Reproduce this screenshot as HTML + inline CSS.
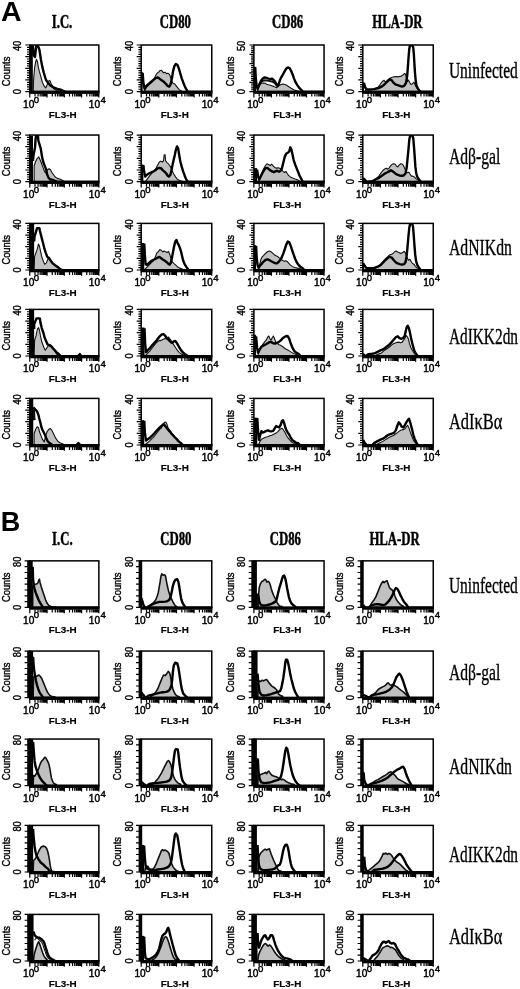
<!DOCTYPE html>
<html><head><meta charset="utf-8"><style>
html,body{margin:0;padding:0;background:#fff;}
svg{display:block;filter:grayscale(1);}
text{font-family:"Liberation Sans",sans-serif;fill:#000;}
.big{font-size:28.5px;font-weight:bold;}
.hd{font-family:"Liberation Serif",serif;font-size:19.2px;font-weight:bold;stroke:#000;stroke-width:0.5px;}
.rl{font-family:"Liberation Serif",serif;font-size:23px;stroke:#000;stroke-width:0.35px;}
.ax{font-size:10.1px;stroke:#000;stroke-width:0.45px;}
.sup{font-size:9.6px;}
.yl{font-size:10.5px;stroke:#000;stroke-width:0.4px;}
.fl{font-size:9.9px;font-weight:bold;stroke:#000;stroke-width:0.15px;}
</style></head><body>
<svg width="520" height="989" viewBox="0 0 520 989">
<text class="big" x="1.0" y="20.8">A</text>
<text class="big" x="0.8" y="530.6" style="font-size:27px">B</text>
<text class="hd" transform="translate(62,28) scale(0.665,1)" text-anchor="middle">I.C.</text>
<text class="hd" transform="translate(175.4,28) scale(0.665,1)" text-anchor="middle">CD80</text>
<text class="hd" transform="translate(287.6,28) scale(0.665,1)" text-anchor="middle">CD86</text>
<text class="hd" transform="translate(397.4,28) scale(0.665,1)" text-anchor="middle">HLA-DR</text>
<text class="rl" transform="translate(448.9,78.2) scale(0.675,1)">Uninfected</text>
<clipPath id="c29_45"><rect x="29.8" y="45" width="69.05" height="46.6"/></clipPath>
<g clip-path="url(#c29_45)">
<polygon points="33.26,91.6 33.55,80.05 34.58,68.05 35.6,62.05 36.48,59.27 37.5,62.05 38.52,67.9 39.4,71.71 40.86,76.54 42.32,82.24 44.22,86.2 45.68,87.95 47.15,85.02 48.17,81.37 49.63,80.34 50.95,83.27 52.41,86.05 53.87,88.83 56.94,90.44 62.05,91.6 62.05,91.6 33.26,91.6" fill="#c0c0c0" stroke="#111" stroke-width="1.1" stroke-linejoin="round"/>
<polyline points="32.82,45.51 33.55,55.02 35.02,56.93 36.18,45.95 37.79,45.51 39.4,49.61 40.86,59.27 42.32,66.88 43.78,72.73 45.25,77.56 46.27,80.34 47.58,82.24 50.07,85.17 52.85,87.07 56.65,88.54 61.47,90 65.42,91.9 71.85,91.9 99.18,91.9" fill="none" stroke="#000" stroke-width="2.4" stroke-linejoin="round"/>
<rect x="29.8" y="45.22" width="3.02" height="46.38" fill="#000"/>
</g>
<rect x="29.8" y="45" width="69.05" height="46.6" fill="none" stroke="#000" stroke-width="1.5"/>
<path d="M25.3 45H29.8M27 47.33H29.8M27 49.66H29.8M27 51.99H29.8M27 54.32H29.8M25.3 56.65H29.8M27 58.98H29.8M27 61.31H29.8M27 63.64H29.8M27 65.97H29.8M25.3 68.3H29.8M27 70.63H29.8M27 72.96H29.8M27 75.29H29.8M27 77.62H29.8M25.3 79.95H29.8M27 82.28H29.8M27 84.61H29.8M27 86.94H29.8M27 89.27H29.8M25.3 91.6H29.8M29.8 93.6V97.4M35 93.6V96.6M38.04 93.6V96.6M40.19 93.6V96.6M41.87 93.6V96.6M43.23 93.6V96.6M44.39 93.6V96.6M45.39 93.6V96.6M46.27 93.6V96.6M47.06 93.6V97.4M52.26 93.6V96.6M55.3 93.6V96.6M57.46 93.6V96.6M59.13 93.6V96.6M60.5 93.6V96.6M61.65 93.6V96.6M62.65 93.6V96.6M63.54 93.6V96.6M64.33 93.6V97.4M69.52 93.6V96.6M72.56 93.6V96.6M74.72 93.6V96.6M76.39 93.6V96.6M77.76 93.6V96.6M78.91 93.6V96.6M79.91 93.6V96.6M80.8 93.6V96.6M81.59 93.6V97.4M86.78 93.6V96.6M89.82 93.6V96.6M91.98 93.6V96.6M93.65 93.6V96.6M95.02 93.6V96.6M96.18 93.6V96.6M97.18 93.6V96.6M98.06 93.6V96.6M98.85 93.6V97.4" stroke="#000" stroke-width="1.2" fill="none"/>
<rect x="29.05" y="90.7" width="70.55" height="3.2" fill="#000"/>
<text class="yl" transform="translate(21.3,46) rotate(-90) scale(0.88,1)" text-anchor="middle">40</text>
<text class="yl" transform="translate(21.3,91.6) rotate(-90) scale(0.88,1)" text-anchor="middle">0</text>
<text class="yl" transform="translate(9.9,71.4) rotate(-90) scale(0.85,1)" text-anchor="middle" style="font-size:11px">Counts</text>
<text class="ax" x="23.1" y="107.8">10<tspan class="sup" dx="-0.5" dy="-5.2">0</tspan></text>
<text class="ax" x="88.85" y="107.8">10<tspan class="sup" dx="0.3" dy="-5.2">4</tspan></text>
<text class="fl" x="62.62" y="117.6" text-anchor="middle">FL3-H</text>
<clipPath id="c141_45"><rect x="141.2" y="45" width="70.55" height="46.6"/></clipPath>
<g clip-path="url(#c141_45)">
<polygon points="144.12,91.46 146.31,87.66 149.23,84.73 152.15,81.8 154.35,78.15 155.81,75.22 157.27,73.02 158.73,72.15 159.75,70.68 161.22,70.24 162.38,71.41 163.55,72.88 165.02,72.15 166.48,73.61 167.94,73.17 169.4,74.34 170.42,76.68 171.45,80.34 172.91,83.27 174.37,83.71 175.83,85.46 177.58,87.66 179.48,89.85 181.68,91.32 182.85,91.6 182.85,91.6 144.12,91.6" fill="#c0c0c0" stroke="#111" stroke-width="1.1" stroke-linejoin="round"/>
<polyline points="142.65,72.73 143.38,82.98 144.55,88.83 146.02,86.2 148.06,84.44 150.69,82.24 153.62,79.76 155.81,78.15 157.71,77.41 159.46,78.59 161.65,80.34 163.85,81.8 166.04,84 167.79,86.2 169.25,86.63 170.57,84.44 171.88,78.59 173.05,71.27 174.37,66.15 175.83,63.95 177.44,64.98 178.9,68.63 180.36,73.76 181.82,78.59 183.28,82.54 184.75,86.2 186.21,89.12 188.11,91.9 190.45,91.9 211.35,91.9" fill="none" stroke="#000" stroke-width="2.4" stroke-linejoin="round"/>
<rect x="141.2" y="72" width="1.45" height="19.6" fill="#000"/>
</g>
<rect x="141.2" y="45" width="70.55" height="46.6" fill="none" stroke="#000" stroke-width="1.5"/>
<path d="M136.7 45H141.2M138.4 47.33H141.2M138.4 49.66H141.2M138.4 51.99H141.2M138.4 54.32H141.2M136.7 56.65H141.2M138.4 58.98H141.2M138.4 61.31H141.2M138.4 63.64H141.2M138.4 65.97H141.2M136.7 68.3H141.2M138.4 70.63H141.2M138.4 72.96H141.2M138.4 75.29H141.2M138.4 77.62H141.2M136.7 79.95H141.2M138.4 82.28H141.2M138.4 84.61H141.2M138.4 86.94H141.2M138.4 89.27H141.2M136.7 91.6H141.2M141.2 93.6V97.4M146.51 93.6V96.6M149.62 93.6V96.6M151.82 93.6V96.6M153.53 93.6V96.6M154.92 93.6V96.6M156.11 93.6V96.6M157.13 93.6V96.6M158.03 93.6V96.6M158.84 93.6V97.4M164.15 93.6V96.6M167.25 93.6V96.6M169.46 93.6V96.6M171.17 93.6V96.6M172.56 93.6V96.6M173.74 93.6V96.6M174.77 93.6V96.6M175.67 93.6V96.6M176.47 93.6V97.4M181.78 93.6V96.6M184.89 93.6V96.6M187.09 93.6V96.6M188.8 93.6V96.6M190.2 93.6V96.6M191.38 93.6V96.6M192.4 93.6V96.6M193.31 93.6V96.6M194.11 93.6V97.4M199.42 93.6V96.6M202.53 93.6V96.6M204.73 93.6V96.6M206.44 93.6V96.6M207.84 93.6V96.6M209.02 93.6V96.6M210.04 93.6V96.6M210.94 93.6V96.6M211.75 93.6V97.4" stroke="#000" stroke-width="1.2" fill="none"/>
<rect x="140.45" y="90.7" width="72.05" height="3.2" fill="#000"/>
<text class="yl" transform="translate(132.7,46) rotate(-90) scale(0.88,1)" text-anchor="middle">40</text>
<text class="yl" transform="translate(132.7,91.6) rotate(-90) scale(0.88,1)" text-anchor="middle">0</text>
<text class="yl" transform="translate(121.3,71.4) rotate(-90) scale(0.85,1)" text-anchor="middle" style="font-size:11px">Counts</text>
<text class="ax" x="134.5" y="107.8">10<tspan class="sup" dx="-0.5" dy="-5.2">0</tspan></text>
<text class="ax" x="201.75" y="107.8">10<tspan class="sup" dx="0.3" dy="-5.2">4</tspan></text>
<text class="fl" x="174.78" y="117.6" text-anchor="middle">FL3-H</text>
<clipPath id="c253_45"><rect x="253.9" y="45" width="70.15" height="46.6"/></clipPath>
<g clip-path="url(#c253_45)">
<polygon points="257.55,91.46 258.58,87.37 260.04,84.44 261.5,83.27 263.4,82.98 265.15,83.27 266.62,84.15 268.37,84.73 270.27,85.17 272.46,85.9 274.22,86.63 275.68,87.37 276.85,87.66 278.02,86.63 279.77,85.17 281.23,84.44 282.98,84 284.88,84.44 286.78,85.32 288.83,86.78 291.17,88.24 293.65,89.71 296.58,90.73 300.23,91.46 300.23,91.6 257.55,91.6" fill="#c0c0c0" stroke="#111" stroke-width="1.1" stroke-linejoin="round"/>
<polyline points="258.58,85.9 260.04,83.27 261.5,81.51 263.4,80.63 265.15,80.34 267.35,80.63 269.25,80.93 271,81.22 272.75,81.8 274.65,82.98 276.12,84.73 277.14,86.2" fill="none" stroke="#111" stroke-width="2.0" stroke-linejoin="round"/>
<polyline points="255.22,67.17 255.8,78.59 256.68,85.9 257.55,88.83 258.58,86.63 259.6,83.71 261.06,80.78 262.96,78.29 264.86,77.41 266.62,77.85 268.37,78.59 270.27,78.88 272.17,78.59 273.92,80.34 275.38,82.24 276.55,84.44 277.58,85.9 278.6,84.44 279.77,80.78 280.94,77.85 282.4,75.37 283.86,72.73 285.32,70.1 286.78,68.05 288.25,67.46 289.71,68.34 291.17,70.98 292.63,74.49 294.09,78.59 295.55,82.24 297.31,85.17 299.06,87.66 300.96,89.56 303.15,91.9 305.35,91.9 324.35,91.9" fill="none" stroke="#000" stroke-width="2.4" stroke-linejoin="round"/>
<rect x="253.9" y="66.88" width="2.05" height="24.72" fill="#000"/>
</g>
<rect x="253.9" y="45" width="70.15" height="46.6" fill="none" stroke="#000" stroke-width="1.5"/>
<path d="M249.4 45H253.9M251.1 46.86H253.9M251.1 48.73H253.9M251.1 50.59H253.9M251.1 52.46H253.9M249.4 54.32H253.9M251.1 56.18H253.9M251.1 58.05H253.9M251.1 59.91H253.9M251.1 61.78H253.9M249.4 63.64H253.9M251.1 65.5H253.9M251.1 67.37H253.9M251.1 69.23H253.9M251.1 71.1H253.9M249.4 72.96H253.9M251.1 74.82H253.9M251.1 76.69H253.9M251.1 78.55H253.9M251.1 80.42H253.9M249.4 82.28H253.9M251.1 84.14H253.9M251.1 86.01H253.9M251.1 87.87H253.9M251.1 89.74H253.9M249.4 91.6H253.9M253.9 93.6V97.4M259.18 93.6V96.6M262.27 93.6V96.6M264.46 93.6V96.6M266.16 93.6V96.6M267.55 93.6V96.6M268.72 93.6V96.6M269.74 93.6V96.6M270.64 93.6V96.6M271.44 93.6V97.4M276.72 93.6V96.6M279.81 93.6V96.6M282 93.6V96.6M283.7 93.6V96.6M285.08 93.6V96.6M286.26 93.6V96.6M287.28 93.6V96.6M288.17 93.6V96.6M288.98 93.6V97.4M294.25 93.6V96.6M297.34 93.6V96.6M299.53 93.6V96.6M301.23 93.6V96.6M302.62 93.6V96.6M303.8 93.6V96.6M304.81 93.6V96.6M305.71 93.6V96.6M306.51 93.6V97.4M311.79 93.6V96.6M314.88 93.6V96.6M317.07 93.6V96.6M318.77 93.6V96.6M320.16 93.6V96.6M321.33 93.6V96.6M322.35 93.6V96.6M323.25 93.6V96.6M324.05 93.6V97.4" stroke="#000" stroke-width="1.2" fill="none"/>
<rect x="253.15" y="90.7" width="71.65" height="3.2" fill="#000"/>
<text class="yl" transform="translate(245.4,46) rotate(-90) scale(0.88,1)" text-anchor="middle">50</text>
<text class="yl" transform="translate(245.4,91.6) rotate(-90) scale(0.88,1)" text-anchor="middle">0</text>
<text class="yl" transform="translate(234,71.4) rotate(-90) scale(0.85,1)" text-anchor="middle" style="font-size:11px">Counts</text>
<text class="ax" x="247.2" y="107.8">10<tspan class="sup" dx="-0.5" dy="-5.2">0</tspan></text>
<text class="ax" x="314.05" y="107.8">10<tspan class="sup" dx="0.3" dy="-5.2">4</tspan></text>
<text class="fl" x="287.28" y="117.6" text-anchor="middle">FL3-H</text>
<clipPath id="c362_45"><rect x="362.8" y="45" width="70.45" height="46.6"/></clipPath>
<g clip-path="url(#c362_45)">
<polygon points="365.38,90.29 369.77,90 374.15,88.83 377.81,87.37 379.71,85.17 381.17,82.98 382.63,81.22 384.09,80.34 385.55,82.24 387.31,80.34 389.5,78.59 391.69,77.41 393.88,76.83 396.08,76.54 398.27,76.83 400.46,76.39 402.65,75.37 404.55,73.46 405.58,74.49 406.6,78.59 407.48,81.51 408.5,80.05 409.52,82.24 410.98,84.44 412.45,83.71 413.91,82.24 415.37,85.17 416.83,88.1 418.73,90.29 420.92,91.02 420.92,91.6 365.38,91.6" fill="#c0c0c0" stroke="#111" stroke-width="1.1" stroke-linejoin="round"/>
<polyline points="363.92,82.68 365.09,87.37 366.55,89.12 369.77,89.56 374.15,89.12 378.54,88.1 381.46,86.63 383.65,85.17 385.85,82.98 388.04,80.78 389.94,79.32 391.69,80.34 393.45,82.68 395.35,84.44 397.54,85.17 399.73,85.9 401.92,86.63 404.12,85.9 406.02,82.98 407.04,77.12 407.77,68.34 408.5,58.1 409.23,49.32 409.96,45.22 412.15,44.63 413.32,47.85 413.91,55.17 414.49,65.41 415.08,74.2 415.81,81.51 416.54,85.9 418,88.54 420.19,91.9 422.38,91.9 433.35,91.9" fill="none" stroke="#000" stroke-width="2.4" stroke-linejoin="round"/>
<rect x="362.8" y="82.24" width="1.12" height="9.36" fill="#000"/>
</g>
<rect x="362.8" y="45" width="70.45" height="46.6" fill="none" stroke="#000" stroke-width="1.5"/>
<path d="M358.3 45H362.8M360 47.33H362.8M360 49.66H362.8M360 51.99H362.8M360 54.32H362.8M358.3 56.65H362.8M360 58.98H362.8M360 61.31H362.8M360 63.64H362.8M360 65.97H362.8M358.3 68.3H362.8M360 70.63H362.8M360 72.96H362.8M360 75.29H362.8M360 77.62H362.8M358.3 79.95H362.8M360 82.28H362.8M360 84.61H362.8M360 86.94H362.8M360 89.27H362.8M358.3 91.6H362.8M362.8 93.6V97.4M368.1 93.6V96.6M371.2 93.6V96.6M373.4 93.6V96.6M375.11 93.6V96.6M376.51 93.6V96.6M377.68 93.6V96.6M378.71 93.6V96.6M379.61 93.6V96.6M380.41 93.6V97.4M385.71 93.6V96.6M388.82 93.6V96.6M391.02 93.6V96.6M392.72 93.6V96.6M394.12 93.6V96.6M395.3 93.6V96.6M396.32 93.6V96.6M397.22 93.6V96.6M398.03 93.6V97.4M403.33 93.6V96.6M406.43 93.6V96.6M408.63 93.6V96.6M410.34 93.6V96.6M411.73 93.6V96.6M412.91 93.6V96.6M413.93 93.6V96.6M414.83 93.6V96.6M415.64 93.6V97.4M420.94 93.6V96.6M424.04 93.6V96.6M426.24 93.6V96.6M427.95 93.6V96.6M429.34 93.6V96.6M430.52 93.6V96.6M431.54 93.6V96.6M432.44 93.6V96.6M433.25 93.6V97.4" stroke="#000" stroke-width="1.2" fill="none"/>
<rect x="362.05" y="90.7" width="71.95" height="3.2" fill="#000"/>
<text class="yl" transform="translate(354.3,46) rotate(-90) scale(0.88,1)" text-anchor="middle">40</text>
<text class="yl" transform="translate(354.3,91.6) rotate(-90) scale(0.88,1)" text-anchor="middle">0</text>
<text class="yl" transform="translate(342.9,71.4) rotate(-90) scale(0.85,1)" text-anchor="middle" style="font-size:11px">Counts</text>
<text class="ax" x="356.1" y="107.8">10<tspan class="sup" dx="-0.5" dy="-5.2">0</tspan></text>
<text class="ax" x="423.25" y="107.8">10<tspan class="sup" dx="0.3" dy="-5.2">4</tspan></text>
<text class="fl" x="396.33" y="117.6" text-anchor="middle">FL3-H</text>
<text class="rl" transform="translate(448.9,164.3) scale(0.68,1)">Adβ-gal</text>
<clipPath id="c29_135"><rect x="29.8" y="135.05" width="69.05" height="46.6"/></clipPath>
<g clip-path="url(#c29_135)">
<polygon points="34.14,181.59 34.14,166.07 35.31,162.27 36.77,159.2 38.82,156.85 39.84,159.2 41.15,162.27 42.18,165.34 43.35,168.41 44.52,171.49 45.68,172.95 46.85,170.76 48.02,169.15 49.48,168.85 50.65,169.88 51.82,172.22 53.43,174.56 54.89,176.76 57.23,178.37 60.3,179.24 63.81,181 63.81,181.65 34.14,181.65" fill="#c0c0c0" stroke="#111" stroke-width="1.1" stroke-linejoin="round"/>
<polyline points="32.97,160.8 33.55,154.95 35.02,147.63 35.6,138.85 36.04,135.93 37.94,135.93 38.38,140.76 39.55,144.56 40.72,148.37 41.45,153.05 42.18,157.59 43.35,162.27 44.52,165.34 45.68,168.41 46.56,171.49 47.15,174.56 48.46,177.63 49.92,179.24 52.55,179.83 57.23,181.95 62.64,181.95 71.85,181.95 74.77,181.95 76.96,181.95 86.46,181.95 88.65,181.95 90.12,181.95 99.18,181.95" fill="none" stroke="#000" stroke-width="2.4" stroke-linejoin="round"/>
<rect x="29.8" y="135.93" width="3.17" height="45.72" fill="#000"/>
</g>
<rect x="29.8" y="135.05" width="69.05" height="46.6" fill="none" stroke="#000" stroke-width="1.5"/>
<path d="M25.3 135.05H29.8M27 137.38H29.8M27 139.71H29.8M27 142.04H29.8M27 144.37H29.8M25.3 146.7H29.8M27 149.03H29.8M27 151.36H29.8M27 153.69H29.8M27 156.02H29.8M25.3 158.35H29.8M27 160.68H29.8M27 163.01H29.8M27 165.34H29.8M27 167.67H29.8M25.3 170H29.8M27 172.33H29.8M27 174.66H29.8M27 176.99H29.8M27 179.32H29.8M25.3 181.65H29.8M29.8 183.65V187.45M35 183.65V186.65M38.04 183.65V186.65M40.19 183.65V186.65M41.87 183.65V186.65M43.23 183.65V186.65M44.39 183.65V186.65M45.39 183.65V186.65M46.27 183.65V186.65M47.06 183.65V187.45M52.26 183.65V186.65M55.3 183.65V186.65M57.46 183.65V186.65M59.13 183.65V186.65M60.5 183.65V186.65M61.65 183.65V186.65M62.65 183.65V186.65M63.54 183.65V186.65M64.33 183.65V187.45M69.52 183.65V186.65M72.56 183.65V186.65M74.72 183.65V186.65M76.39 183.65V186.65M77.76 183.65V186.65M78.91 183.65V186.65M79.91 183.65V186.65M80.8 183.65V186.65M81.59 183.65V187.45M86.78 183.65V186.65M89.82 183.65V186.65M91.98 183.65V186.65M93.65 183.65V186.65M95.02 183.65V186.65M96.18 183.65V186.65M97.18 183.65V186.65M98.06 183.65V186.65M98.85 183.65V187.45" stroke="#000" stroke-width="1.2" fill="none"/>
<rect x="29.05" y="180.75" width="70.55" height="3.2" fill="#000"/>
<text class="yl" transform="translate(21.3,136.05) rotate(-90) scale(0.88,1)" text-anchor="middle">40</text>
<text class="yl" transform="translate(21.3,181.65) rotate(-90) scale(0.88,1)" text-anchor="middle">0</text>
<text class="yl" transform="translate(9.9,161.45) rotate(-90) scale(0.85,1)" text-anchor="middle" style="font-size:11px">Counts</text>
<text class="ax" x="23.1" y="197.85">10<tspan class="sup" dx="-0.5" dy="-5.2">0</tspan></text>
<text class="ax" x="88.85" y="197.85">10<tspan class="sup" dx="0.3" dy="-5.2">4</tspan></text>
<text class="fl" x="62.62" y="207.65" text-anchor="middle">FL3-H</text>
<clipPath id="c141_135"><rect x="141.2" y="135.05" width="70.55" height="46.6"/></clipPath>
<g clip-path="url(#c141_135)">
<polygon points="145.58,181.29 147.77,178.37 149.96,175.44 152.15,172.8 154.35,170.76 156.25,167.83 157.71,164.9 159.17,162.27 160.63,161.1 162.09,161.98 163.55,160.8 164.14,154.95 165.02,154.66 165.6,160.8 166.77,162.27 168.23,163.73 169.69,165.49 171.15,168.12 172.32,171.34 173.78,173.98 175.54,176.9 177.29,179.1 179.63,180.56 182.85,181.59 182.85,181.65 145.58,181.65" fill="#c0c0c0" stroke="#111" stroke-width="1.1" stroke-linejoin="round"/>
<polyline points="143.38,165.2 144.12,171.34 145.14,176.61 147.04,174.71 149.23,173.24 151.42,172.22 153.62,171.34 155.81,169.88 157.71,168.41 159.46,167.83 160.92,168.12 162.38,169.88 164.14,171.34 166.04,173.24 167.5,175.44 168.96,176.61 170.42,174.71 171.45,170.32 172.62,164.46 173.78,159.34 174.81,154.95 175.83,149.83 177,146.46 178.17,148.37 179.19,154.95 180.36,161.54 181.68,166.66 183.14,171.34 184.6,175.44 186.06,179.1 187.96,181.95 190.15,181.95 211.35,181.95" fill="none" stroke="#000" stroke-width="2.4" stroke-linejoin="round"/>
<rect x="141.2" y="164.46" width="2.18" height="17.19" fill="#000"/>
</g>
<rect x="141.2" y="135.05" width="70.55" height="46.6" fill="none" stroke="#000" stroke-width="1.5"/>
<path d="M136.7 135.05H141.2M138.4 137.38H141.2M138.4 139.71H141.2M138.4 142.04H141.2M138.4 144.37H141.2M136.7 146.7H141.2M138.4 149.03H141.2M138.4 151.36H141.2M138.4 153.69H141.2M138.4 156.02H141.2M136.7 158.35H141.2M138.4 160.68H141.2M138.4 163.01H141.2M138.4 165.34H141.2M138.4 167.67H141.2M136.7 170H141.2M138.4 172.33H141.2M138.4 174.66H141.2M138.4 176.99H141.2M138.4 179.32H141.2M136.7 181.65H141.2M141.2 183.65V187.45M146.51 183.65V186.65M149.62 183.65V186.65M151.82 183.65V186.65M153.53 183.65V186.65M154.92 183.65V186.65M156.11 183.65V186.65M157.13 183.65V186.65M158.03 183.65V186.65M158.84 183.65V187.45M164.15 183.65V186.65M167.25 183.65V186.65M169.46 183.65V186.65M171.17 183.65V186.65M172.56 183.65V186.65M173.74 183.65V186.65M174.77 183.65V186.65M175.67 183.65V186.65M176.47 183.65V187.45M181.78 183.65V186.65M184.89 183.65V186.65M187.09 183.65V186.65M188.8 183.65V186.65M190.2 183.65V186.65M191.38 183.65V186.65M192.4 183.65V186.65M193.31 183.65V186.65M194.11 183.65V187.45M199.42 183.65V186.65M202.53 183.65V186.65M204.73 183.65V186.65M206.44 183.65V186.65M207.84 183.65V186.65M209.02 183.65V186.65M210.04 183.65V186.65M210.94 183.65V186.65M211.75 183.65V187.45" stroke="#000" stroke-width="1.2" fill="none"/>
<rect x="140.45" y="180.75" width="72.05" height="3.2" fill="#000"/>
<text class="yl" transform="translate(132.7,136.05) rotate(-90) scale(0.88,1)" text-anchor="middle">40</text>
<text class="yl" transform="translate(132.7,181.65) rotate(-90) scale(0.88,1)" text-anchor="middle">0</text>
<text class="yl" transform="translate(121.3,161.45) rotate(-90) scale(0.85,1)" text-anchor="middle" style="font-size:11px">Counts</text>
<text class="ax" x="134.5" y="197.85">10<tspan class="sup" dx="-0.5" dy="-5.2">0</tspan></text>
<text class="ax" x="201.75" y="197.85">10<tspan class="sup" dx="0.3" dy="-5.2">4</tspan></text>
<text class="fl" x="174.78" y="207.65" text-anchor="middle">FL3-H</text>
<clipPath id="c253_135"><rect x="253.9" y="135.05" width="70.15" height="46.6"/></clipPath>
<g clip-path="url(#c253_135)">
<polygon points="258.58,181.29 260.04,176.9 261.94,172.51 263.69,168.85 265.45,165.49 266.91,163.73 268.37,164.46 270.27,165.49 271.73,164.02 273.19,165.93 274.65,167.39 276.55,168.12 278.31,167.83 280.06,168.41 281.52,169.59 282.98,171.34 284.45,172.51 285.91,171.34 287.08,173.24 288.54,175.44 290.29,176.9 292.63,178.07 295.12,179.1 297.31,179.83 299.5,181 299.5,181.65 258.58,181.65" fill="#c0c0c0" stroke="#111" stroke-width="1.1" stroke-linejoin="round"/>
<polyline points="257.12,169.59 258.14,176.9 259.31,179.54 260.48,176.9 261.94,173.98 263.69,170.76 265.45,168.12 266.91,167.83 268.37,168.85 270.27,170.32 272.17,171.34 273.92,172.22 275.38,171.34 277.14,170.76 279.04,171.78 280.5,171.05 281.96,168.12 283.42,162.27 284.88,156.41 286.35,153.49 287.81,152.76 289.27,151.29 290.29,147.34 291.46,149.83 292.63,154.95 293.65,160.07 295.12,164.46 296.58,168.12 298.04,171.78 299.5,175.44 300.96,178.37 302.86,181.95 305.35,181.95 308.27,181.95 324.35,181.95" fill="none" stroke="#000" stroke-width="2.4" stroke-linejoin="round"/>
<rect x="253.9" y="168.12" width="3.22" height="13.53" fill="#000"/>
</g>
<rect x="253.9" y="135.05" width="70.15" height="46.6" fill="none" stroke="#000" stroke-width="1.5"/>
<path d="M249.4 135.05H253.9M251.1 137.38H253.9M251.1 139.71H253.9M251.1 142.04H253.9M251.1 144.37H253.9M249.4 146.7H253.9M251.1 149.03H253.9M251.1 151.36H253.9M251.1 153.69H253.9M251.1 156.02H253.9M249.4 158.35H253.9M251.1 160.68H253.9M251.1 163.01H253.9M251.1 165.34H253.9M251.1 167.67H253.9M249.4 170H253.9M251.1 172.33H253.9M251.1 174.66H253.9M251.1 176.99H253.9M251.1 179.32H253.9M249.4 181.65H253.9M253.9 183.65V187.45M259.18 183.65V186.65M262.27 183.65V186.65M264.46 183.65V186.65M266.16 183.65V186.65M267.55 183.65V186.65M268.72 183.65V186.65M269.74 183.65V186.65M270.64 183.65V186.65M271.44 183.65V187.45M276.72 183.65V186.65M279.81 183.65V186.65M282 183.65V186.65M283.7 183.65V186.65M285.08 183.65V186.65M286.26 183.65V186.65M287.28 183.65V186.65M288.17 183.65V186.65M288.98 183.65V187.45M294.25 183.65V186.65M297.34 183.65V186.65M299.53 183.65V186.65M301.23 183.65V186.65M302.62 183.65V186.65M303.8 183.65V186.65M304.81 183.65V186.65M305.71 183.65V186.65M306.51 183.65V187.45M311.79 183.65V186.65M314.88 183.65V186.65M317.07 183.65V186.65M318.77 183.65V186.65M320.16 183.65V186.65M321.33 183.65V186.65M322.35 183.65V186.65M323.25 183.65V186.65M324.05 183.65V187.45" stroke="#000" stroke-width="1.2" fill="none"/>
<rect x="253.15" y="180.75" width="71.65" height="3.2" fill="#000"/>
<text class="yl" transform="translate(245.4,136.05) rotate(-90) scale(0.88,1)" text-anchor="middle">40</text>
<text class="yl" transform="translate(245.4,181.65) rotate(-90) scale(0.88,1)" text-anchor="middle">0</text>
<text class="yl" transform="translate(234,161.45) rotate(-90) scale(0.85,1)" text-anchor="middle" style="font-size:11px">Counts</text>
<text class="ax" x="247.2" y="197.85">10<tspan class="sup" dx="-0.5" dy="-5.2">0</tspan></text>
<text class="ax" x="314.05" y="197.85">10<tspan class="sup" dx="0.3" dy="-5.2">4</tspan></text>
<text class="fl" x="287.28" y="207.65" text-anchor="middle">FL3-H</text>
<clipPath id="c362_135"><rect x="362.8" y="135.05" width="70.45" height="46.6"/></clipPath>
<g clip-path="url(#c362_135)">
<polygon points="366.85,181.29 372.69,180.56 376.35,178.37 378.83,176.17 380.73,173.24 382.63,170.76 384.38,169.29 386.14,168.12 387.6,169.29 389.06,168.12 390.52,165.93 391.98,164.46 393.45,163.73 394.91,164.02 396.37,165.93 397.83,166.95 399.29,164.9 400.75,163.73 402.22,164.02 403.68,165.93 404.85,168.85 406.02,171.34 407.48,172.8 408.94,172.22 409.96,173.98 411.42,176.17 412.88,176.17 414.35,176.9 415.81,178.66 418,180.12 420.19,181.29 420.19,181.65 366.85,181.65" fill="#c0c0c0" stroke="#111" stroke-width="1.1" stroke-linejoin="round"/>
<polyline points="363.19,178.37 364.65,179.54 366.85,181.95 371.23,181.95 375.62,179.54 379.27,177.63 382.19,175.44 384.68,173.68 387.02,172.51 389.06,171.34 390.96,170.32 392.86,171.34 394.91,173.24 397.25,174.71 399.29,175.44 401.63,175.73 403.68,175.44 405.58,173.24 406.6,168.12 407.48,159.34 408.5,149.1 409.23,140.32 410.11,135.63 412.45,135.2 413.32,138.85 414.05,147.63 414.78,157.88 415.37,166.66 416.25,173.24 417.27,176.9 418.73,179.1 420.92,181.95 423.85,181.95 433.35,181.95" fill="none" stroke="#000" stroke-width="2.4" stroke-linejoin="round"/>
<rect x="362.8" y="177.63" width="1.42" height="4.02" fill="#000"/>
</g>
<rect x="362.8" y="135.05" width="70.45" height="46.6" fill="none" stroke="#000" stroke-width="1.5"/>
<path d="M358.3 135.05H362.8M360 137.38H362.8M360 139.71H362.8M360 142.04H362.8M360 144.37H362.8M358.3 146.7H362.8M360 149.03H362.8M360 151.36H362.8M360 153.69H362.8M360 156.02H362.8M358.3 158.35H362.8M360 160.68H362.8M360 163.01H362.8M360 165.34H362.8M360 167.67H362.8M358.3 170H362.8M360 172.33H362.8M360 174.66H362.8M360 176.99H362.8M360 179.32H362.8M358.3 181.65H362.8M362.8 183.65V187.45M368.1 183.65V186.65M371.2 183.65V186.65M373.4 183.65V186.65M375.11 183.65V186.65M376.51 183.65V186.65M377.68 183.65V186.65M378.71 183.65V186.65M379.61 183.65V186.65M380.41 183.65V187.45M385.71 183.65V186.65M388.82 183.65V186.65M391.02 183.65V186.65M392.72 183.65V186.65M394.12 183.65V186.65M395.3 183.65V186.65M396.32 183.65V186.65M397.22 183.65V186.65M398.03 183.65V187.45M403.33 183.65V186.65M406.43 183.65V186.65M408.63 183.65V186.65M410.34 183.65V186.65M411.73 183.65V186.65M412.91 183.65V186.65M413.93 183.65V186.65M414.83 183.65V186.65M415.64 183.65V187.45M420.94 183.65V186.65M424.04 183.65V186.65M426.24 183.65V186.65M427.95 183.65V186.65M429.34 183.65V186.65M430.52 183.65V186.65M431.54 183.65V186.65M432.44 183.65V186.65M433.25 183.65V187.45" stroke="#000" stroke-width="1.2" fill="none"/>
<rect x="362.05" y="180.75" width="71.95" height="3.2" fill="#000"/>
<text class="yl" transform="translate(354.3,136.05) rotate(-90) scale(0.88,1)" text-anchor="middle">40</text>
<text class="yl" transform="translate(354.3,181.65) rotate(-90) scale(0.88,1)" text-anchor="middle">0</text>
<text class="yl" transform="translate(342.9,161.45) rotate(-90) scale(0.85,1)" text-anchor="middle" style="font-size:11px">Counts</text>
<text class="ax" x="356.1" y="197.85">10<tspan class="sup" dx="-0.5" dy="-5.2">0</tspan></text>
<text class="ax" x="423.25" y="197.85">10<tspan class="sup" dx="0.3" dy="-5.2">4</tspan></text>
<text class="fl" x="396.33" y="207.65" text-anchor="middle">FL3-H</text>
<text class="rl" transform="translate(448.9,254.5) scale(0.685,1)">AdNIKdn</text>
<clipPath id="c29_223"><rect x="29.8" y="223.4" width="69.05" height="46.6"/></clipPath>
<g clip-path="url(#c29_223)">
<polygon points="34.14,270 34.58,256.56 35.6,253.63 37.06,249.68 38.52,243.98 39.4,245.88 40.42,250.71 41.74,256.56 43.35,261.24 44.66,264.17 46.27,263.15 48.17,258.46 49.48,257.44 50.95,260.37 52.85,263.15 55.77,266.07 58.69,267.98 61.47,269 64.54,270 64.54,270 34.14,270" fill="#c0c0c0" stroke="#111" stroke-width="1.1" stroke-linejoin="round"/>
<polyline points="34.14,241.49 34.58,236.37 37.06,228.17 39.4,228.17 39.84,230.51 41.3,236.37 42.76,242.07 44.22,247.78 45.68,252.61 47.15,256.56 49.05,258.46 50.51,260.37 52.41,263.15 54.75,265.05 57.67,266.95 61.47,270.3 67.46,270.3 100.35,270.3" fill="none" stroke="#000" stroke-width="2.4" stroke-linejoin="round"/>
<rect x="29.8" y="223.93" width="4.34" height="46.07" fill="#000"/>
</g>
<rect x="29.8" y="223.4" width="69.05" height="46.6" fill="none" stroke="#000" stroke-width="1.5"/>
<path d="M25.3 223.4H29.8M27 225.73H29.8M27 228.06H29.8M27 230.39H29.8M27 232.72H29.8M25.3 235.05H29.8M27 237.38H29.8M27 239.71H29.8M27 242.04H29.8M27 244.37H29.8M25.3 246.7H29.8M27 249.03H29.8M27 251.36H29.8M27 253.69H29.8M27 256.02H29.8M25.3 258.35H29.8M27 260.68H29.8M27 263.01H29.8M27 265.34H29.8M27 267.67H29.8M25.3 270H29.8M29.8 272V275.8M35 272V275M38.04 272V275M40.19 272V275M41.87 272V275M43.23 272V275M44.39 272V275M45.39 272V275M46.27 272V275M47.06 272V275.8M52.26 272V275M55.3 272V275M57.46 272V275M59.13 272V275M60.5 272V275M61.65 272V275M62.65 272V275M63.54 272V275M64.33 272V275.8M69.52 272V275M72.56 272V275M74.72 272V275M76.39 272V275M77.76 272V275M78.91 272V275M79.91 272V275M80.8 272V275M81.59 272V275.8M86.78 272V275M89.82 272V275M91.98 272V275M93.65 272V275M95.02 272V275M96.18 272V275M97.18 272V275M98.06 272V275M98.85 272V275.8" stroke="#000" stroke-width="1.2" fill="none"/>
<rect x="29.05" y="269.1" width="70.55" height="3.2" fill="#000"/>
<text class="yl" transform="translate(21.3,224.4) rotate(-90) scale(0.88,1)" text-anchor="middle">40</text>
<text class="yl" transform="translate(21.3,270) rotate(-90) scale(0.88,1)" text-anchor="middle">0</text>
<text class="yl" transform="translate(9.9,249.8) rotate(-90) scale(0.85,1)" text-anchor="middle" style="font-size:11px">Counts</text>
<text class="ax" x="23.1" y="286.2">10<tspan class="sup" dx="-0.5" dy="-5.2">0</tspan></text>
<text class="ax" x="88.85" y="286.2">10<tspan class="sup" dx="0.3" dy="-5.2">4</tspan></text>
<text class="fl" x="62.62" y="296" text-anchor="middle">FL3-H</text>
<clipPath id="c141_223"><rect x="141.2" y="223.4" width="70.55" height="46.6"/></clipPath>
<g clip-path="url(#c141_223)">
<polygon points="144.85,269.29 147.04,267.1 149.23,264.9 151.42,262.71 153.62,260.51 155.37,256.85 156.83,252.9 158.29,251.73 159.75,249.54 161.22,250.27 162.68,252.02 164.14,251 165.6,251.73 167.06,252.46 168.52,251.44 169.69,253.93 170.86,258.32 172.32,261.98 173.78,263.44 175.54,264.9 177.29,266.66 179.63,268.12 182.85,269.29 182.85,270 144.85,270" fill="#c0c0c0" stroke="#111" stroke-width="1.1" stroke-linejoin="round"/>
<polyline points="144.26,243.68 144.85,254.66 145.58,264.17 147.04,264.9 149.23,262.71 151.42,260.8 153.62,259.78 155.81,258.76 157.71,257.59 159.46,256.85 161.22,258.32 163.12,259.78 165.02,260.8 166.77,262.27 168.23,263.73 169.69,264.61 170.86,262.71 171.88,258.32 172.91,252.46 174.08,246.61 175.25,241.49 176.42,240.02 177.58,242.95 178.75,245.15 179.92,248.07 181.09,251.73 182.12,256.12 183.14,260.51 184.6,264.17 186.5,267.1 188.69,270.3 191.62,270.3 211.35,270.3" fill="none" stroke="#000" stroke-width="2.4" stroke-linejoin="round"/>
<rect x="141.2" y="242.95" width="3.06" height="27.05" fill="#000"/>
</g>
<rect x="141.2" y="223.4" width="70.55" height="46.6" fill="none" stroke="#000" stroke-width="1.5"/>
<path d="M136.7 223.4H141.2M138.4 225.73H141.2M138.4 228.06H141.2M138.4 230.39H141.2M138.4 232.72H141.2M136.7 235.05H141.2M138.4 237.38H141.2M138.4 239.71H141.2M138.4 242.04H141.2M138.4 244.37H141.2M136.7 246.7H141.2M138.4 249.03H141.2M138.4 251.36H141.2M138.4 253.69H141.2M138.4 256.02H141.2M136.7 258.35H141.2M138.4 260.68H141.2M138.4 263.01H141.2M138.4 265.34H141.2M138.4 267.67H141.2M136.7 270H141.2M141.2 272V275.8M146.51 272V275M149.62 272V275M151.82 272V275M153.53 272V275M154.92 272V275M156.11 272V275M157.13 272V275M158.03 272V275M158.84 272V275.8M164.15 272V275M167.25 272V275M169.46 272V275M171.17 272V275M172.56 272V275M173.74 272V275M174.77 272V275M175.67 272V275M176.47 272V275.8M181.78 272V275M184.89 272V275M187.09 272V275M188.8 272V275M190.2 272V275M191.38 272V275M192.4 272V275M193.31 272V275M194.11 272V275.8M199.42 272V275M202.53 272V275M204.73 272V275M206.44 272V275M207.84 272V275M209.02 272V275M210.04 272V275M210.94 272V275M211.75 272V275.8" stroke="#000" stroke-width="1.2" fill="none"/>
<rect x="140.45" y="269.1" width="72.05" height="3.2" fill="#000"/>
<text class="yl" transform="translate(132.7,224.4) rotate(-90) scale(0.88,1)" text-anchor="middle">40</text>
<text class="yl" transform="translate(132.7,270) rotate(-90) scale(0.88,1)" text-anchor="middle">0</text>
<text class="yl" transform="translate(121.3,249.8) rotate(-90) scale(0.85,1)" text-anchor="middle" style="font-size:11px">Counts</text>
<text class="ax" x="134.5" y="286.2">10<tspan class="sup" dx="-0.5" dy="-5.2">0</tspan></text>
<text class="ax" x="201.75" y="286.2">10<tspan class="sup" dx="0.3" dy="-5.2">4</tspan></text>
<text class="fl" x="174.78" y="296" text-anchor="middle">FL3-H</text>
<clipPath id="c253_223"><rect x="253.9" y="223.4" width="70.15" height="46.6"/></clipPath>
<g clip-path="url(#c253_223)">
<polygon points="258.58,269.29 259.6,264.9 260.77,259.78 262.23,256.85 263.69,255.39 265.45,253.49 267.35,251.73 269.25,251 271,251.73 272.75,253.2 274.22,254.66 276.12,255.83 278.02,256.85 279.77,258.32 281.23,259.34 282.69,260.51 284.45,261.24 285.91,260.8 287.37,261.68 288.83,263.44 290.29,264.9 292.19,266.37 294.38,267.54 297.31,268.12 300.23,268.56 300.23,270 258.58,270" fill="#c0c0c0" stroke="#111" stroke-width="1.1" stroke-linejoin="round"/>
<polyline points="256.09,245.88 256.68,257.59 257.55,264.9 258.58,267.83 260.04,265.63 261.94,263.44 263.98,261.24 265.88,259.78 267.78,259.34 269.54,260.22 271.29,261.24 273.19,262.27 275.09,263.15 276.85,263.44 278.6,261.98 280.5,259.78 281.96,256.85 283.42,253.2 284.88,248.8 286.35,244.41 287.81,241.49 289.27,242.22 290.73,245.88 292.19,250.27 293.65,254.66 295.12,258.76 296.58,261.98 298.48,264.9 300.23,266.66 302.42,268.12 304.62,270.3 307.54,270.3 309,270.3 324.35,270.3" fill="none" stroke="#000" stroke-width="2.4" stroke-linejoin="round"/>
<rect x="253.9" y="245.15" width="2.19" height="24.85" fill="#000"/>
</g>
<rect x="253.9" y="223.4" width="70.15" height="46.6" fill="none" stroke="#000" stroke-width="1.5"/>
<path d="M249.4 223.4H253.9M251.1 225.73H253.9M251.1 228.06H253.9M251.1 230.39H253.9M251.1 232.72H253.9M249.4 235.05H253.9M251.1 237.38H253.9M251.1 239.71H253.9M251.1 242.04H253.9M251.1 244.37H253.9M249.4 246.7H253.9M251.1 249.03H253.9M251.1 251.36H253.9M251.1 253.69H253.9M251.1 256.02H253.9M249.4 258.35H253.9M251.1 260.68H253.9M251.1 263.01H253.9M251.1 265.34H253.9M251.1 267.67H253.9M249.4 270H253.9M253.9 272V275.8M259.18 272V275M262.27 272V275M264.46 272V275M266.16 272V275M267.55 272V275M268.72 272V275M269.74 272V275M270.64 272V275M271.44 272V275.8M276.72 272V275M279.81 272V275M282 272V275M283.7 272V275M285.08 272V275M286.26 272V275M287.28 272V275M288.17 272V275M288.98 272V275.8M294.25 272V275M297.34 272V275M299.53 272V275M301.23 272V275M302.62 272V275M303.8 272V275M304.81 272V275M305.71 272V275M306.51 272V275.8M311.79 272V275M314.88 272V275M317.07 272V275M318.77 272V275M320.16 272V275M321.33 272V275M322.35 272V275M323.25 272V275M324.05 272V275.8" stroke="#000" stroke-width="1.2" fill="none"/>
<rect x="253.15" y="269.1" width="71.65" height="3.2" fill="#000"/>
<text class="yl" transform="translate(245.4,224.4) rotate(-90) scale(0.88,1)" text-anchor="middle">40</text>
<text class="yl" transform="translate(245.4,270) rotate(-90) scale(0.88,1)" text-anchor="middle">0</text>
<text class="yl" transform="translate(234,249.8) rotate(-90) scale(0.85,1)" text-anchor="middle" style="font-size:11px">Counts</text>
<text class="ax" x="247.2" y="286.2">10<tspan class="sup" dx="-0.5" dy="-5.2">0</tspan></text>
<text class="ax" x="314.05" y="286.2">10<tspan class="sup" dx="0.3" dy="-5.2">4</tspan></text>
<text class="fl" x="287.28" y="296" text-anchor="middle">FL3-H</text>
<clipPath id="c362_223"><rect x="362.8" y="223.4" width="70.45" height="46.6"/></clipPath>
<g clip-path="url(#c362_223)">
<polygon points="366.85,269.29 372.69,268.71 377.08,267.54 380,265.63 382.19,262.71 384.09,260.22 385.85,258.32 387.6,256.85 389.5,254.95 391.4,254.37 393.15,253.49 394.62,251.73 396.08,251 397.54,252.02 399,252.46 400.75,253.49 402.65,252.46 404.12,251.44 405.58,253.2 407.04,257.59 408.5,260.22 409.96,259.34 410.98,261.24 412.45,263.44 413.91,264.17 415.37,266.37 417.27,268.12 419.46,269.29 419.46,270 366.85,270" fill="#c0c0c0" stroke="#111" stroke-width="1.1" stroke-linejoin="round"/>
<polyline points="363.19,263.44 364.65,265.63 366.12,267.83 369.77,268.12 374.15,267.83 377.81,266.66 380.73,264.9 382.92,262.71 385.12,260.51 387.31,258.32 389.5,256.85 391.69,257.59 393.45,259.78 395.35,261.98 397.54,263.44 399.73,264.17 401.92,264.61 404.12,264.17 405.58,261.98 406.6,256.12 407.48,247.34 408.35,237.1 409.23,228.32 410.11,223.63 412.15,223.2 413.03,226.85 413.76,235.63 414.49,245.88 415.22,254.66 416.1,261.24 417.27,264.9 418.73,267.54 420.92,270.3 423.85,270.3 433.35,270.3" fill="none" stroke="#000" stroke-width="2.4" stroke-linejoin="round"/>
<rect x="362.8" y="263.15" width="1.42" height="6.85" fill="#000"/>
</g>
<rect x="362.8" y="223.4" width="70.45" height="46.6" fill="none" stroke="#000" stroke-width="1.5"/>
<path d="M358.3 223.4H362.8M360 225.73H362.8M360 228.06H362.8M360 230.39H362.8M360 232.72H362.8M358.3 235.05H362.8M360 237.38H362.8M360 239.71H362.8M360 242.04H362.8M360 244.37H362.8M358.3 246.7H362.8M360 249.03H362.8M360 251.36H362.8M360 253.69H362.8M360 256.02H362.8M358.3 258.35H362.8M360 260.68H362.8M360 263.01H362.8M360 265.34H362.8M360 267.67H362.8M358.3 270H362.8M362.8 272V275.8M368.1 272V275M371.2 272V275M373.4 272V275M375.11 272V275M376.51 272V275M377.68 272V275M378.71 272V275M379.61 272V275M380.41 272V275.8M385.71 272V275M388.82 272V275M391.02 272V275M392.72 272V275M394.12 272V275M395.3 272V275M396.32 272V275M397.22 272V275M398.03 272V275.8M403.33 272V275M406.43 272V275M408.63 272V275M410.34 272V275M411.73 272V275M412.91 272V275M413.93 272V275M414.83 272V275M415.64 272V275.8M420.94 272V275M424.04 272V275M426.24 272V275M427.95 272V275M429.34 272V275M430.52 272V275M431.54 272V275M432.44 272V275M433.25 272V275.8" stroke="#000" stroke-width="1.2" fill="none"/>
<rect x="362.05" y="269.1" width="71.95" height="3.2" fill="#000"/>
<text class="yl" transform="translate(354.3,224.4) rotate(-90) scale(0.88,1)" text-anchor="middle">40</text>
<text class="yl" transform="translate(354.3,270) rotate(-90) scale(0.88,1)" text-anchor="middle">0</text>
<text class="yl" transform="translate(342.9,249.8) rotate(-90) scale(0.85,1)" text-anchor="middle" style="font-size:11px">Counts</text>
<text class="ax" x="356.1" y="286.2">10<tspan class="sup" dx="-0.5" dy="-5.2">0</tspan></text>
<text class="ax" x="423.25" y="286.2">10<tspan class="sup" dx="0.3" dy="-5.2">4</tspan></text>
<text class="fl" x="396.33" y="296" text-anchor="middle">FL3-H</text>
<text class="rl" transform="translate(448.9,343.8) scale(0.668,1)">AdIKK2dn</text>
<clipPath id="c29_309"><rect x="29.8" y="309.4" width="69.05" height="46.6"/></clipPath>
<g clip-path="url(#c29_309)">
<polygon points="34.14,356 34.58,340.51 36.04,335.68 37.5,328.95 38.52,327.63 39.4,329.98 40.42,335.68 41.74,341.54 43.78,347.24 45.25,350.17 46.56,348.27 48.61,345.34 50.51,344.9 52.41,347.83 54.75,351.05 56.65,353.98 59.13,355.88 61.62,356 61.62,356 34.14,356" fill="#c0c0c0" stroke="#111" stroke-width="1.1" stroke-linejoin="round"/>
<polyline points="34.14,328.95 34.14,324.27 36.48,318.41 39.84,318.41 40.42,322.37 41.74,328.07 43.35,332.76 44.66,337.73 46.27,341.54 47.58,344.46 49.48,345.34 51.38,346.37 53.72,349.15 56.35,352.07 58.69,353.98 61.03,356.3 62.93,356.3 77.69,356.3 79.88,354.12 81.35,356.3 100.35,356.3" fill="none" stroke="#000" stroke-width="2.4" stroke-linejoin="round"/>
<rect x="29.8" y="309.93" width="4.34" height="46.07" fill="#000"/>
</g>
<rect x="29.8" y="309.4" width="69.05" height="46.6" fill="none" stroke="#000" stroke-width="1.5"/>
<path d="M25.3 309.4H29.8M27 311.73H29.8M27 314.06H29.8M27 316.39H29.8M27 318.72H29.8M25.3 321.05H29.8M27 323.38H29.8M27 325.71H29.8M27 328.04H29.8M27 330.37H29.8M25.3 332.7H29.8M27 335.03H29.8M27 337.36H29.8M27 339.69H29.8M27 342.02H29.8M25.3 344.35H29.8M27 346.68H29.8M27 349.01H29.8M27 351.34H29.8M27 353.67H29.8M25.3 356H29.8M29.8 358V361.8M35 358V361M38.04 358V361M40.19 358V361M41.87 358V361M43.23 358V361M44.39 358V361M45.39 358V361M46.27 358V361M47.06 358V361.8M52.26 358V361M55.3 358V361M57.46 358V361M59.13 358V361M60.5 358V361M61.65 358V361M62.65 358V361M63.54 358V361M64.33 358V361.8M69.52 358V361M72.56 358V361M74.72 358V361M76.39 358V361M77.76 358V361M78.91 358V361M79.91 358V361M80.8 358V361M81.59 358V361.8M86.78 358V361M89.82 358V361M91.98 358V361M93.65 358V361M95.02 358V361M96.18 358V361M97.18 358V361M98.06 358V361M98.85 358V361.8" stroke="#000" stroke-width="1.2" fill="none"/>
<rect x="29.05" y="355.1" width="70.55" height="3.2" fill="#000"/>
<text class="yl" transform="translate(21.3,310.4) rotate(-90) scale(0.88,1)" text-anchor="middle">40</text>
<text class="yl" transform="translate(21.3,356) rotate(-90) scale(0.88,1)" text-anchor="middle">0</text>
<text class="yl" transform="translate(9.9,335.8) rotate(-90) scale(0.85,1)" text-anchor="middle" style="font-size:11px">Counts</text>
<text class="ax" x="23.1" y="372.2">10<tspan class="sup" dx="-0.5" dy="-5.2">0</tspan></text>
<text class="ax" x="88.85" y="372.2">10<tspan class="sup" dx="0.3" dy="-5.2">4</tspan></text>
<text class="fl" x="62.62" y="382" text-anchor="middle">FL3-H</text>
<clipPath id="c141_309"><rect x="141.2" y="309.4" width="70.55" height="46.6"/></clipPath>
<g clip-path="url(#c141_309)">
<polygon points="145.58,355.29 147.77,353.1 149.96,350.9 152.15,347.98 154.35,345.05 156.25,342.85 158,341.39 159.46,340.37 160.92,340.66 162.68,339.49 164.14,338.9 165.6,338.46 167.06,338.9 168.23,337 169.69,338.46 171.15,340.66 172.91,343.59 174.37,345.78 175.83,347.98 177.29,350.17 179.19,352.37 181.38,354.12 184.31,355.29 184.31,356 145.58,356" fill="#c0c0c0" stroke="#111" stroke-width="1.1" stroke-linejoin="round"/>
<polyline points="144.55,328.22 145.14,343.59 146.02,352.37 147.77,350.17 149.96,347.98 152.15,345.34 154.35,342.85 156.25,340.95 158,338.46 159.75,336.27 161.65,334.51 163.55,334.07 165.02,335.54 166.48,337.73 167.94,339.2 169.4,340.66 170.86,342.12 172.32,342.85 173.78,341.39 175.25,340.95 176.71,342.85 178.17,345.34 179.63,347.98 181.38,350.61 183.14,352.66 185.04,354.12 187.96,356.3 191.62,356.3 211.35,356.3" fill="none" stroke="#000" stroke-width="2.4" stroke-linejoin="round"/>
<rect x="141.2" y="327.49" width="3.35" height="28.51" fill="#000"/>
</g>
<rect x="141.2" y="309.4" width="70.55" height="46.6" fill="none" stroke="#000" stroke-width="1.5"/>
<path d="M136.7 309.4H141.2M138.4 311.73H141.2M138.4 314.06H141.2M138.4 316.39H141.2M138.4 318.72H141.2M136.7 321.05H141.2M138.4 323.38H141.2M138.4 325.71H141.2M138.4 328.04H141.2M138.4 330.37H141.2M136.7 332.7H141.2M138.4 335.03H141.2M138.4 337.36H141.2M138.4 339.69H141.2M138.4 342.02H141.2M136.7 344.35H141.2M138.4 346.68H141.2M138.4 349.01H141.2M138.4 351.34H141.2M138.4 353.67H141.2M136.7 356H141.2M141.2 358V361.8M146.51 358V361M149.62 358V361M151.82 358V361M153.53 358V361M154.92 358V361M156.11 358V361M157.13 358V361M158.03 358V361M158.84 358V361.8M164.15 358V361M167.25 358V361M169.46 358V361M171.17 358V361M172.56 358V361M173.74 358V361M174.77 358V361M175.67 358V361M176.47 358V361.8M181.78 358V361M184.89 358V361M187.09 358V361M188.8 358V361M190.2 358V361M191.38 358V361M192.4 358V361M193.31 358V361M194.11 358V361.8M199.42 358V361M202.53 358V361M204.73 358V361M206.44 358V361M207.84 358V361M209.02 358V361M210.04 358V361M210.94 358V361M211.75 358V361.8" stroke="#000" stroke-width="1.2" fill="none"/>
<rect x="140.45" y="355.1" width="72.05" height="3.2" fill="#000"/>
<text class="yl" transform="translate(132.7,310.4) rotate(-90) scale(0.88,1)" text-anchor="middle">40</text>
<text class="yl" transform="translate(132.7,356) rotate(-90) scale(0.88,1)" text-anchor="middle">0</text>
<text class="yl" transform="translate(121.3,335.8) rotate(-90) scale(0.85,1)" text-anchor="middle" style="font-size:11px">Counts</text>
<text class="ax" x="134.5" y="372.2">10<tspan class="sup" dx="-0.5" dy="-5.2">0</tspan></text>
<text class="ax" x="201.75" y="372.2">10<tspan class="sup" dx="0.3" dy="-5.2">4</tspan></text>
<text class="fl" x="174.78" y="382" text-anchor="middle">FL3-H</text>
<clipPath id="c253_309"><rect x="253.9" y="309.4" width="70.15" height="46.6"/></clipPath>
<g clip-path="url(#c253_309)">
<polygon points="257.85,355.59 259.31,350.9 260.77,347.24 262.52,344.76 264.42,342.12 266.32,339.93 267.78,337 268.81,335.98 269.83,338.46 271,340.37 272.17,337.73 273.34,335.98 274.51,338.46 275.68,341.83 277.14,343.29 279.04,344.76 280.5,345.34 281.96,346.22 283.42,347.24 285.32,348.71 287.37,349.73 289.27,350.9 291.46,352.37 294.38,353.83 297.31,355 300.23,355.73 300.23,356 257.85,356" fill="#c0c0c0" stroke="#111" stroke-width="1.1" stroke-linejoin="round"/>
<polyline points="256.09,336.27 257.12,347.98 258.14,352.66 259.6,349.44 261.5,346.8 263.69,345.34 265.88,344.32 267.78,343.29 269.54,342.12 271.29,342.12 273.19,343.29 275.09,343.59 276.85,342.85 278.6,342.12 280.5,340.66 282.4,338.46 284.45,337 286.35,335.98 287.81,336.27 289.27,338.9 290.29,342.12 291.46,345.34 292.92,348.71 294.38,351.2 296.14,352.66 298.48,353.83 300.96,356.3 303.15,356.3 305.35,356.3 324.35,356.3" fill="none" stroke="#000" stroke-width="2.4" stroke-linejoin="round"/>
<rect x="253.9" y="334.8" width="2.19" height="21.2" fill="#000"/>
</g>
<rect x="253.9" y="309.4" width="70.15" height="46.6" fill="none" stroke="#000" stroke-width="1.5"/>
<path d="M249.4 309.4H253.9M251.1 311.73H253.9M251.1 314.06H253.9M251.1 316.39H253.9M251.1 318.72H253.9M249.4 321.05H253.9M251.1 323.38H253.9M251.1 325.71H253.9M251.1 328.04H253.9M251.1 330.37H253.9M249.4 332.7H253.9M251.1 335.03H253.9M251.1 337.36H253.9M251.1 339.69H253.9M251.1 342.02H253.9M249.4 344.35H253.9M251.1 346.68H253.9M251.1 349.01H253.9M251.1 351.34H253.9M251.1 353.67H253.9M249.4 356H253.9M253.9 358V361.8M259.18 358V361M262.27 358V361M264.46 358V361M266.16 358V361M267.55 358V361M268.72 358V361M269.74 358V361M270.64 358V361M271.44 358V361.8M276.72 358V361M279.81 358V361M282 358V361M283.7 358V361M285.08 358V361M286.26 358V361M287.28 358V361M288.17 358V361M288.98 358V361.8M294.25 358V361M297.34 358V361M299.53 358V361M301.23 358V361M302.62 358V361M303.8 358V361M304.81 358V361M305.71 358V361M306.51 358V361.8M311.79 358V361M314.88 358V361M317.07 358V361M318.77 358V361M320.16 358V361M321.33 358V361M322.35 358V361M323.25 358V361M324.05 358V361.8" stroke="#000" stroke-width="1.2" fill="none"/>
<rect x="253.15" y="355.1" width="71.65" height="3.2" fill="#000"/>
<text class="yl" transform="translate(245.4,310.4) rotate(-90) scale(0.88,1)" text-anchor="middle">40</text>
<text class="yl" transform="translate(245.4,356) rotate(-90) scale(0.88,1)" text-anchor="middle">0</text>
<text class="yl" transform="translate(234,335.8) rotate(-90) scale(0.85,1)" text-anchor="middle" style="font-size:11px">Counts</text>
<text class="ax" x="247.2" y="372.2">10<tspan class="sup" dx="-0.5" dy="-5.2">0</tspan></text>
<text class="ax" x="314.05" y="372.2">10<tspan class="sup" dx="0.3" dy="-5.2">4</tspan></text>
<text class="fl" x="287.28" y="382" text-anchor="middle">FL3-H</text>
<clipPath id="c362_309"><rect x="362.8" y="309.4" width="70.45" height="46.6"/></clipPath>
<g clip-path="url(#c362_309)">
<polygon points="375.62,355.29 378.54,354.12 381.46,353.1 383.65,350.9 385.85,349.44 388.04,347.98 390.23,346.22 392.42,344.32 394.62,343.29 396.81,342.41 398.71,342.12 400.46,342.85 402.22,342.12 403.68,339.93 405.14,337.73 406.31,335.54 407.48,337 408.5,339.2 409.52,343.59 410.69,347.24 411.86,349.44 412.88,350.9 414.35,353.54 416.54,355.29 416.54,356 375.62,356" fill="#c0c0c0" stroke="#111" stroke-width="1.1" stroke-linejoin="round"/>
<polyline points="363.19,354.12 365.38,356.3 368.31,354.12 371.23,353.83 374.15,353.54 377.08,352.07 380,350.61 382.92,349.44 385.12,347.98 387.31,346.22 389.5,344.32 391.69,342.12 393.88,339.49 396.08,337 397.83,336.27 399.29,338.02 401.19,338.9 403.09,338.02 404.55,336.27 405.58,331.88 406.6,327.49 407.77,325.73 408.94,328.22 409.96,332.61 410.98,337.73 412.15,342.85 413.32,347.24 414.35,350.9 415.81,353.54 418,356.3 433.35,356.3" fill="none" stroke="#000" stroke-width="2.4" stroke-linejoin="round"/>
<rect x="362.8" y="353.54" width="1.12" height="2.46" fill="#000"/>
</g>
<rect x="362.8" y="309.4" width="70.45" height="46.6" fill="none" stroke="#000" stroke-width="1.5"/>
<path d="M358.3 309.4H362.8M360 311.73H362.8M360 314.06H362.8M360 316.39H362.8M360 318.72H362.8M358.3 321.05H362.8M360 323.38H362.8M360 325.71H362.8M360 328.04H362.8M360 330.37H362.8M358.3 332.7H362.8M360 335.03H362.8M360 337.36H362.8M360 339.69H362.8M360 342.02H362.8M358.3 344.35H362.8M360 346.68H362.8M360 349.01H362.8M360 351.34H362.8M360 353.67H362.8M358.3 356H362.8M362.8 358V361.8M368.1 358V361M371.2 358V361M373.4 358V361M375.11 358V361M376.51 358V361M377.68 358V361M378.71 358V361M379.61 358V361M380.41 358V361.8M385.71 358V361M388.82 358V361M391.02 358V361M392.72 358V361M394.12 358V361M395.3 358V361M396.32 358V361M397.22 358V361M398.03 358V361.8M403.33 358V361M406.43 358V361M408.63 358V361M410.34 358V361M411.73 358V361M412.91 358V361M413.93 358V361M414.83 358V361M415.64 358V361.8M420.94 358V361M424.04 358V361M426.24 358V361M427.95 358V361M429.34 358V361M430.52 358V361M431.54 358V361M432.44 358V361M433.25 358V361.8" stroke="#000" stroke-width="1.2" fill="none"/>
<rect x="362.05" y="355.1" width="71.95" height="3.2" fill="#000"/>
<text class="yl" transform="translate(354.3,310.4) rotate(-90) scale(0.88,1)" text-anchor="middle">40</text>
<text class="yl" transform="translate(354.3,356) rotate(-90) scale(0.88,1)" text-anchor="middle">0</text>
<text class="yl" transform="translate(342.9,335.8) rotate(-90) scale(0.85,1)" text-anchor="middle" style="font-size:11px">Counts</text>
<text class="ax" x="356.1" y="372.2">10<tspan class="sup" dx="-0.5" dy="-5.2">0</tspan></text>
<text class="ax" x="423.25" y="372.2">10<tspan class="sup" dx="0.3" dy="-5.2">4</tspan></text>
<text class="fl" x="396.33" y="382" text-anchor="middle">FL3-H</text>
<text class="rl" transform="translate(448.9,428.5) scale(0.715,1)">AdIκBα</text>
<clipPath id="c29_398"><rect x="29.8" y="398.4" width="69.05" height="46.6"/></clipPath>
<g clip-path="url(#c29_398)">
<polygon points="34.14,445 34.14,433.46 35.6,429.51 37.06,426.73 38.52,427.61 39.4,431.56 40.86,435.37 42.32,439.17 44.22,441.95 45.68,435.37 47.15,431.56 49.05,429.07 50.51,428.63 51.97,430.54 53.43,433.46 54.75,436.24 56.35,439.17 58.25,441.66 60.59,442.98 62.93,444 65.27,445 65.27,445 34.14,445" fill="#c0c0c0" stroke="#111" stroke-width="1.1" stroke-linejoin="round"/>
<polyline points="33.55,407.71 33.85,417.95 34.43,420.15" fill="none" stroke="#111" stroke-width="3.0" stroke-linejoin="round"/>
<polyline points="33.26,407.41 35.6,409.76 37.06,411.37 38.52,415.17 39.4,418.98 40.42,422.78 41.3,426.73 42.32,429.51 43.78,432.44 45.25,435.37 46.27,438.15 47.58,441.07 49.48,442.98 52.85,445.3 56.65,445.3 64.54,445.3 76.23,445.3 78.42,443.12 80.32,445.3 99.62,445.3" fill="none" stroke="#000" stroke-width="2.4" stroke-linejoin="round"/>
<rect x="29.8" y="398.2" width="3.46" height="46.8" fill="#000"/>
</g>
<rect x="29.8" y="398.4" width="69.05" height="46.6" fill="none" stroke="#000" stroke-width="1.5"/>
<path d="M25.3 398.4H29.8M27 400.73H29.8M27 403.06H29.8M27 405.39H29.8M27 407.72H29.8M25.3 410.05H29.8M27 412.38H29.8M27 414.71H29.8M27 417.04H29.8M27 419.37H29.8M25.3 421.7H29.8M27 424.03H29.8M27 426.36H29.8M27 428.69H29.8M27 431.02H29.8M25.3 433.35H29.8M27 435.68H29.8M27 438.01H29.8M27 440.34H29.8M27 442.67H29.8M25.3 445H29.8M29.8 447V450.8M35 447V450M38.04 447V450M40.19 447V450M41.87 447V450M43.23 447V450M44.39 447V450M45.39 447V450M46.27 447V450M47.06 447V450.8M52.26 447V450M55.3 447V450M57.46 447V450M59.13 447V450M60.5 447V450M61.65 447V450M62.65 447V450M63.54 447V450M64.33 447V450.8M69.52 447V450M72.56 447V450M74.72 447V450M76.39 447V450M77.76 447V450M78.91 447V450M79.91 447V450M80.8 447V450M81.59 447V450.8M86.78 447V450M89.82 447V450M91.98 447V450M93.65 447V450M95.02 447V450M96.18 447V450M97.18 447V450M98.06 447V450M98.85 447V450.8" stroke="#000" stroke-width="1.2" fill="none"/>
<rect x="29.05" y="444.1" width="70.55" height="3.2" fill="#000"/>
<text class="yl" transform="translate(21.3,399.4) rotate(-90) scale(0.88,1)" text-anchor="middle">40</text>
<text class="yl" transform="translate(21.3,445) rotate(-90) scale(0.88,1)" text-anchor="middle">0</text>
<text class="yl" transform="translate(9.9,424.8) rotate(-90) scale(0.85,1)" text-anchor="middle" style="font-size:11px">Counts</text>
<text class="ax" x="23.1" y="461.2">10<tspan class="sup" dx="-0.5" dy="-5.2">0</tspan></text>
<text class="ax" x="88.85" y="461.2">10<tspan class="sup" dx="0.3" dy="-5.2">4</tspan></text>
<text class="fl" x="62.62" y="471" text-anchor="middle">FL3-H</text>
<clipPath id="c141_398"><rect x="141.2" y="398.4" width="70.55" height="46.6"/></clipPath>
<g clip-path="url(#c141_398)">
<polygon points="145.58,444.29 147.77,442.54 149.96,440.63 152.15,438.44 154.35,436.24 156.25,433.76 158,431.41 159.75,429.37 161.22,428.2 162.68,425.27 163.85,423.07 165.02,422.05 166.04,422.34 167.06,424.54 167.94,427.46 168.96,429.37 170.42,431.12 172.32,433.76 174.08,435.8 175.83,438.15 177.73,440.63 179.92,442.83 182.85,444.29 182.85,445 145.58,445" fill="#c0c0c0" stroke="#111" stroke-width="1.1" stroke-linejoin="round"/>
<polyline points="144.26,420.88 144.85,432.59 146.02,440.63 147.77,439.17 149.96,437.71 152.15,435.51 154.35,433.32 156.54,430.83 158.73,428.49 160.63,426.73 162.38,425.27 163.55,424.1 164.58,425.27 166.04,427.02 167.5,428.93 169.4,431.12 171.15,433.32 172.91,435.22 174.81,437.27 176.71,439.17 178.75,441.37 180.65,442.83 182.85,445.3 185.77,445.3 211.35,445.3" fill="none" stroke="#000" stroke-width="2.4" stroke-linejoin="round"/>
<rect x="141.2" y="420.15" width="3.06" height="24.85" fill="#000"/>
</g>
<rect x="141.2" y="398.4" width="70.55" height="46.6" fill="none" stroke="#000" stroke-width="1.5"/>
<path d="M136.7 398.4H141.2M138.4 400.73H141.2M138.4 403.06H141.2M138.4 405.39H141.2M138.4 407.72H141.2M136.7 410.05H141.2M138.4 412.38H141.2M138.4 414.71H141.2M138.4 417.04H141.2M138.4 419.37H141.2M136.7 421.7H141.2M138.4 424.03H141.2M138.4 426.36H141.2M138.4 428.69H141.2M138.4 431.02H141.2M136.7 433.35H141.2M138.4 435.68H141.2M138.4 438.01H141.2M138.4 440.34H141.2M138.4 442.67H141.2M136.7 445H141.2M141.2 447V450.8M146.51 447V450M149.62 447V450M151.82 447V450M153.53 447V450M154.92 447V450M156.11 447V450M157.13 447V450M158.03 447V450M158.84 447V450.8M164.15 447V450M167.25 447V450M169.46 447V450M171.17 447V450M172.56 447V450M173.74 447V450M174.77 447V450M175.67 447V450M176.47 447V450.8M181.78 447V450M184.89 447V450M187.09 447V450M188.8 447V450M190.2 447V450M191.38 447V450M192.4 447V450M193.31 447V450M194.11 447V450.8M199.42 447V450M202.53 447V450M204.73 447V450M206.44 447V450M207.84 447V450M209.02 447V450M210.04 447V450M210.94 447V450M211.75 447V450.8" stroke="#000" stroke-width="1.2" fill="none"/>
<rect x="140.45" y="444.1" width="72.05" height="3.2" fill="#000"/>
<text class="yl" transform="translate(132.7,399.4) rotate(-90) scale(0.88,1)" text-anchor="middle">40</text>
<text class="yl" transform="translate(132.7,445) rotate(-90) scale(0.88,1)" text-anchor="middle">0</text>
<text class="yl" transform="translate(121.3,424.8) rotate(-90) scale(0.85,1)" text-anchor="middle" style="font-size:11px">Counts</text>
<text class="ax" x="134.5" y="461.2">10<tspan class="sup" dx="-0.5" dy="-5.2">0</tspan></text>
<text class="ax" x="201.75" y="461.2">10<tspan class="sup" dx="0.3" dy="-5.2">4</tspan></text>
<text class="fl" x="174.78" y="471" text-anchor="middle">FL3-H</text>
<clipPath id="c253_398"><rect x="253.9" y="398.4" width="70.15" height="46.6"/></clipPath>
<g clip-path="url(#c253_398)">
<polygon points="258.58,444.59 260.04,441.37 261.5,439.17 263.4,438.15 265.45,437.27 267.78,436.68 269.83,435.8 271.73,435.22 273.63,434.34 275.68,433.32 277.58,431.85 279.04,430.39 280.5,428.93 281.96,428.2 283.42,429.95 284.88,432.29 286.35,435.22 287.81,437.71 289.71,439.9 291.75,442.1 294.38,443.56 297.31,444.59 297.31,445 258.58,445" fill="#c0c0c0" stroke="#111" stroke-width="1.1" stroke-linejoin="round"/>
<polyline points="257.26,417.95 258.14,432.59 259.02,439.9 260.48,434.05 261.5,431.12 262.96,432.59 264.42,431.85 266.32,430.83 268.08,430.39 269.54,431.12 271.29,431.41 273.19,430.83 274.65,428.49 276.12,426 277.58,426.73 279.04,427.46 280.5,425.27 281.96,420.88 282.98,420.15 284.15,423.07 285.32,427.46 286.49,430.39 287.81,432.59 289.27,434.78 290.73,437.71 292.19,439.9 294.09,441.37 295.85,442.54 298.04,443.12 300.23,445.3 302.42,445.3 304.62,445.3 324.35,445.3" fill="none" stroke="#000" stroke-width="2.4" stroke-linejoin="round"/>
<rect x="253.9" y="417.66" width="3.36" height="27.34" fill="#000"/>
</g>
<rect x="253.9" y="398.4" width="70.15" height="46.6" fill="none" stroke="#000" stroke-width="1.5"/>
<path d="M249.4 398.4H253.9M251.1 400.73H253.9M251.1 403.06H253.9M251.1 405.39H253.9M251.1 407.72H253.9M249.4 410.05H253.9M251.1 412.38H253.9M251.1 414.71H253.9M251.1 417.04H253.9M251.1 419.37H253.9M249.4 421.7H253.9M251.1 424.03H253.9M251.1 426.36H253.9M251.1 428.69H253.9M251.1 431.02H253.9M249.4 433.35H253.9M251.1 435.68H253.9M251.1 438.01H253.9M251.1 440.34H253.9M251.1 442.67H253.9M249.4 445H253.9M253.9 447V450.8M259.18 447V450M262.27 447V450M264.46 447V450M266.16 447V450M267.55 447V450M268.72 447V450M269.74 447V450M270.64 447V450M271.44 447V450.8M276.72 447V450M279.81 447V450M282 447V450M283.7 447V450M285.08 447V450M286.26 447V450M287.28 447V450M288.17 447V450M288.98 447V450.8M294.25 447V450M297.34 447V450M299.53 447V450M301.23 447V450M302.62 447V450M303.8 447V450M304.81 447V450M305.71 447V450M306.51 447V450.8M311.79 447V450M314.88 447V450M317.07 447V450M318.77 447V450M320.16 447V450M321.33 447V450M322.35 447V450M323.25 447V450M324.05 447V450.8" stroke="#000" stroke-width="1.2" fill="none"/>
<rect x="253.15" y="444.1" width="71.65" height="3.2" fill="#000"/>
<text class="yl" transform="translate(245.4,399.4) rotate(-90) scale(0.88,1)" text-anchor="middle">40</text>
<text class="yl" transform="translate(245.4,445) rotate(-90) scale(0.88,1)" text-anchor="middle">0</text>
<text class="yl" transform="translate(234,424.8) rotate(-90) scale(0.85,1)" text-anchor="middle" style="font-size:11px">Counts</text>
<text class="ax" x="247.2" y="461.2">10<tspan class="sup" dx="-0.5" dy="-5.2">0</tspan></text>
<text class="ax" x="314.05" y="461.2">10<tspan class="sup" dx="0.3" dy="-5.2">4</tspan></text>
<text class="fl" x="287.28" y="471" text-anchor="middle">FL3-H</text>
<clipPath id="c362_398"><rect x="362.8" y="398.4" width="70.45" height="46.6"/></clipPath>
<g clip-path="url(#c362_398)">
<polygon points="377.08,444.29 380,442.83 382.92,441.37 385.12,439.9 387.31,438.44 389.5,437.27 391.69,436.24 393.88,435.22 395.78,433.76 397.54,432.59 399.29,431.12 401.19,429.95 403.09,429.66 404.85,428.93 406.31,426.73 407.48,425.27 408.5,426.73 409.52,429.66 410.69,433.32 411.86,436.24 413.03,439.17 414.35,441.66 416.25,443.56 418.73,444.59 418.73,445 377.08,445" fill="#c0c0c0" stroke="#111" stroke-width="1.1" stroke-linejoin="round"/>
<polyline points="363.19,440.2 364.65,442.83 366.85,445.3 369.77,445.3 371.96,445.3 374.15,443.12 377.08,441.37 380,439.9 382.92,438.73 385.12,437.27 387.31,435.51 389.5,434.34 391.69,433.76 393.88,432.88 395.78,430.39 397.25,426 398.71,422.34 400.17,423.8 401.63,426.73 403.38,427.46 404.85,425.27 406.31,422.34 407.77,420.15 408.94,418.68 409.96,421.61 410.98,425.27 412.15,429.66 413.32,434.78 414.49,438.44 415.81,441.37 417.71,445.3 419.46,445.3 433.35,445.3" fill="none" stroke="#000" stroke-width="2.4" stroke-linejoin="round"/>
<rect x="362.8" y="439.9" width="1.42" height="5.1" fill="#000"/>
</g>
<rect x="362.8" y="398.4" width="70.45" height="46.6" fill="none" stroke="#000" stroke-width="1.5"/>
<path d="M358.3 398.4H362.8M360 400.73H362.8M360 403.06H362.8M360 405.39H362.8M360 407.72H362.8M358.3 410.05H362.8M360 412.38H362.8M360 414.71H362.8M360 417.04H362.8M360 419.37H362.8M358.3 421.7H362.8M360 424.03H362.8M360 426.36H362.8M360 428.69H362.8M360 431.02H362.8M358.3 433.35H362.8M360 435.68H362.8M360 438.01H362.8M360 440.34H362.8M360 442.67H362.8M358.3 445H362.8M362.8 447V450.8M368.1 447V450M371.2 447V450M373.4 447V450M375.11 447V450M376.51 447V450M377.68 447V450M378.71 447V450M379.61 447V450M380.41 447V450.8M385.71 447V450M388.82 447V450M391.02 447V450M392.72 447V450M394.12 447V450M395.3 447V450M396.32 447V450M397.22 447V450M398.03 447V450.8M403.33 447V450M406.43 447V450M408.63 447V450M410.34 447V450M411.73 447V450M412.91 447V450M413.93 447V450M414.83 447V450M415.64 447V450.8M420.94 447V450M424.04 447V450M426.24 447V450M427.95 447V450M429.34 447V450M430.52 447V450M431.54 447V450M432.44 447V450M433.25 447V450.8" stroke="#000" stroke-width="1.2" fill="none"/>
<rect x="362.05" y="444.1" width="71.95" height="3.2" fill="#000"/>
<text class="yl" transform="translate(354.3,399.4) rotate(-90) scale(0.88,1)" text-anchor="middle">40</text>
<text class="yl" transform="translate(354.3,445) rotate(-90) scale(0.88,1)" text-anchor="middle">0</text>
<text class="yl" transform="translate(342.9,424.8) rotate(-90) scale(0.85,1)" text-anchor="middle" style="font-size:11px">Counts</text>
<text class="ax" x="356.1" y="461.2">10<tspan class="sup" dx="-0.5" dy="-5.2">0</tspan></text>
<text class="ax" x="423.25" y="461.2">10<tspan class="sup" dx="0.3" dy="-5.2">4</tspan></text>
<text class="fl" x="396.33" y="471" text-anchor="middle">FL3-H</text>
<text class="hd" transform="translate(62.3,545.2) scale(0.665,1)" text-anchor="middle">I.C.</text>
<text class="hd" transform="translate(175.9,545.2) scale(0.665,1)" text-anchor="middle">CD80</text>
<text class="hd" transform="translate(285.3,545.2) scale(0.665,1)" text-anchor="middle">CD86</text>
<text class="hd" transform="translate(394.6,545.2) scale(0.665,1)" text-anchor="middle">HLA-DR</text>
<text class="rl" transform="translate(448.9,593.1) scale(0.675,1)">Uninfected</text>
<clipPath id="c29_560"><rect x="29.8" y="560.85" width="69.05" height="46.6"/></clipPath>
<g clip-path="url(#c29_560)">
<polygon points="32.68,607.02 32.68,585.8 34.58,584.34 36.48,584.05 37.94,582.88 38.82,579.95 39.4,579.22 39.98,582.15 41.15,586.54 42.62,590.93 44.08,595.32 45.54,599.71 47,603.07 48.75,605.56 51.38,606.73 55.77,607.02 55.77,607.45 32.68,607.45" fill="#c0c0c0" stroke="#111" stroke-width="1.6" stroke-linejoin="round"/>
<polyline points="32.68,566.78 33.12,579.95 34.14,587.27 35.6,592.39 37.06,596.05 38.52,599.71 39.98,602.63 41.45,604.83 43.35,607.75 46.27,607.75 99.18,607.75" fill="none" stroke="#000" stroke-width="2.4" stroke-linejoin="round"/>
<rect x="29.8" y="560.93" width="2.88" height="46.52" fill="#000"/>
</g>
<rect x="29.8" y="560.85" width="69.05" height="46.6" fill="none" stroke="#000" stroke-width="1.5"/>
<rect x="27.2" y="560.55" width="3.4" height="47.2" fill="#000"/>
<path d="M24.6 560.85H29.8M24.6 566.68H29.8M24.6 572.5H29.8M24.6 578.33H29.8M24.6 584.15H29.8M24.6 589.98H29.8M24.6 595.8H29.8M24.6 601.62H29.8M24.6 607.45H29.8M29.8 609.45V613.25M35 609.45V612.45M38.04 609.45V612.45M40.19 609.45V612.45M41.87 609.45V612.45M43.23 609.45V612.45M44.39 609.45V612.45M45.39 609.45V612.45M46.27 609.45V612.45M47.06 609.45V613.25M52.26 609.45V612.45M55.3 609.45V612.45M57.46 609.45V612.45M59.13 609.45V612.45M60.5 609.45V612.45M61.65 609.45V612.45M62.65 609.45V612.45M63.54 609.45V612.45M64.33 609.45V613.25M69.52 609.45V612.45M72.56 609.45V612.45M74.72 609.45V612.45M76.39 609.45V612.45M77.76 609.45V612.45M78.91 609.45V612.45M79.91 609.45V612.45M80.8 609.45V612.45M81.59 609.45V613.25M86.78 609.45V612.45M89.82 609.45V612.45M91.98 609.45V612.45M93.65 609.45V612.45M95.02 609.45V612.45M96.18 609.45V612.45M97.18 609.45V612.45M98.06 609.45V612.45M98.85 609.45V613.25" stroke="#000" stroke-width="1.2" fill="none"/>
<rect x="29.05" y="606.55" width="70.55" height="3.2" fill="#000"/>
<text class="yl" transform="translate(21.3,561.85) rotate(-90) scale(0.88,1)" text-anchor="middle">80</text>
<text class="yl" transform="translate(21.3,607.45) rotate(-90) scale(0.88,1)" text-anchor="middle">0</text>
<text class="yl" transform="translate(9.9,587.25) rotate(-90) scale(0.85,1)" text-anchor="middle" style="font-size:11px">Counts</text>
<text class="ax" x="23.1" y="623.65">10<tspan class="sup" dx="-0.5" dy="-5.2">0</tspan></text>
<text class="ax" x="88.85" y="623.65">10<tspan class="sup" dx="0.3" dy="-5.2">4</tspan></text>
<text class="fl" x="62.62" y="633.45" text-anchor="middle">FL3-H</text>
<clipPath id="c141_560"><rect x="141.2" y="560.85" width="70.55" height="46.6"/></clipPath>
<g clip-path="url(#c141_560)">
<polygon points="147.77,606.29 150.69,605.12 153.62,602.63 155.81,599.71 157.27,596.05 158.29,592.39 159.17,587.27 160.19,581.41 160.92,576.29 161.8,573.8 163.12,575.27 164.58,574.83 165.6,576.29 166.48,581.41 167.5,586.54 168.52,590.93 169.69,594.59 170.86,597.51 171.88,599.71 172.91,601.9 174.08,604.1 175.54,606 177.29,606.88 177.29,607.45 147.77,607.45" fill="#c0c0c0" stroke="#111" stroke-width="1.6" stroke-linejoin="round"/>
<polyline points="141.19,598.24 142.22,600.44 143.38,604.83 144.85,607.75 147.77,607.75 150.69,605.12 153.62,603.66 156.54,602.63 159.46,601.9 162.38,601.9 165.31,601.61 167.5,601.17 169.4,599.71 170.86,596.05 171.88,590.93 172.91,585.8 174.08,582.15 175.54,579.66 177.29,579.22 178.46,582.15 179.34,587.27 180.22,593.12 181.09,598.24 182.12,601.9 183.58,604.83 185.77,607.75 188.69,607.75 211.35,607.75" fill="none" stroke="#000" stroke-width="2.4" stroke-linejoin="round"/>
<rect x="141.2" y="598.24" width="1.02" height="9.21" fill="#000"/>
</g>
<rect x="141.2" y="560.85" width="70.55" height="46.6" fill="none" stroke="#000" stroke-width="1.5"/>
<rect x="138.6" y="560.55" width="3.6" height="47.2" fill="#000"/>
<path d="M136 560.85H141.2M136 566.68H141.2M136 572.5H141.2M136 578.33H141.2M136 584.15H141.2M136 589.98H141.2M136 595.8H141.2M136 601.62H141.2M136 607.45H141.2M141.2 609.45V613.25M146.51 609.45V612.45M149.62 609.45V612.45M151.82 609.45V612.45M153.53 609.45V612.45M154.92 609.45V612.45M156.11 609.45V612.45M157.13 609.45V612.45M158.03 609.45V612.45M158.84 609.45V613.25M164.15 609.45V612.45M167.25 609.45V612.45M169.46 609.45V612.45M171.17 609.45V612.45M172.56 609.45V612.45M173.74 609.45V612.45M174.77 609.45V612.45M175.67 609.45V612.45M176.47 609.45V613.25M181.78 609.45V612.45M184.89 609.45V612.45M187.09 609.45V612.45M188.8 609.45V612.45M190.2 609.45V612.45M191.38 609.45V612.45M192.4 609.45V612.45M193.31 609.45V612.45M194.11 609.45V613.25M199.42 609.45V612.45M202.53 609.45V612.45M204.73 609.45V612.45M206.44 609.45V612.45M207.84 609.45V612.45M209.02 609.45V612.45M210.04 609.45V612.45M210.94 609.45V612.45M211.75 609.45V613.25" stroke="#000" stroke-width="1.2" fill="none"/>
<rect x="140.45" y="606.55" width="72.05" height="3.2" fill="#000"/>
<text class="yl" transform="translate(132.7,561.85) rotate(-90) scale(0.88,1)" text-anchor="middle">80</text>
<text class="yl" transform="translate(132.7,607.45) rotate(-90) scale(0.88,1)" text-anchor="middle">0</text>
<text class="yl" transform="translate(121.3,587.25) rotate(-90) scale(0.85,1)" text-anchor="middle" style="font-size:11px">Counts</text>
<text class="ax" x="134.5" y="623.65">10<tspan class="sup" dx="-0.5" dy="-5.2">0</tspan></text>
<text class="ax" x="201.75" y="623.65">10<tspan class="sup" dx="0.3" dy="-5.2">4</tspan></text>
<text class="fl" x="174.78" y="633.45" text-anchor="middle">FL3-H</text>
<clipPath id="c253_560"><rect x="253.9" y="560.85" width="70.15" height="46.6"/></clipPath>
<g clip-path="url(#c253_560)">
<polygon points="258.14,606.29 258.58,594.59 259.31,587.27 260.48,583.61 261.94,581.41 263.4,580.68 264.86,579.22 265.88,579.95 266.91,582.15 268.08,581.41 269.25,582.15 270.27,585.07 271.29,588.73 272.46,592.39 273.63,595.32 275.09,598.24 276.12,600.44 277.14,602.63 278.31,604.54 279.77,606 281.96,606.59 281.96,607.45 258.14,607.45" fill="#c0c0c0" stroke="#111" stroke-width="1.6" stroke-linejoin="round"/>
<polyline points="257.85,593.85 258.58,597.51 259.31,601.9 260.77,604.83 263.69,605.56 266.62,605.12 269.54,604.54 272.46,603.37 275.09,601.9 276.55,599.71 277.58,595.32 278.6,590.93 279.77,586.54 280.94,582.88 281.96,579.22 282.98,576.29 284.15,575.56 285.32,578.49 286.2,582.88 287.08,588 287.95,592.39 288.83,596.78 290,600.44 291.46,603.37 293.65,605.56 296.58,607.75 301.69,607.75 324.35,607.75" fill="none" stroke="#000" stroke-width="2.4" stroke-linejoin="round"/>
<rect x="253.9" y="593.56" width="3.95" height="13.89" fill="#000"/>
</g>
<rect x="253.9" y="560.85" width="70.15" height="46.6" fill="none" stroke="#000" stroke-width="1.5"/>
<rect x="251.3" y="560.55" width="5.6" height="47.2" fill="#000"/>
<path d="M248.7 560.85H253.9M248.7 566.68H253.9M248.7 572.5H253.9M248.7 578.33H253.9M248.7 584.15H253.9M248.7 589.98H253.9M248.7 595.8H253.9M248.7 601.62H253.9M248.7 607.45H253.9M253.9 609.45V613.25M259.18 609.45V612.45M262.27 609.45V612.45M264.46 609.45V612.45M266.16 609.45V612.45M267.55 609.45V612.45M268.72 609.45V612.45M269.74 609.45V612.45M270.64 609.45V612.45M271.44 609.45V613.25M276.72 609.45V612.45M279.81 609.45V612.45M282 609.45V612.45M283.7 609.45V612.45M285.08 609.45V612.45M286.26 609.45V612.45M287.28 609.45V612.45M288.17 609.45V612.45M288.98 609.45V613.25M294.25 609.45V612.45M297.34 609.45V612.45M299.53 609.45V612.45M301.23 609.45V612.45M302.62 609.45V612.45M303.8 609.45V612.45M304.81 609.45V612.45M305.71 609.45V612.45M306.51 609.45V613.25M311.79 609.45V612.45M314.88 609.45V612.45M317.07 609.45V612.45M318.77 609.45V612.45M320.16 609.45V612.45M321.33 609.45V612.45M322.35 609.45V612.45M323.25 609.45V612.45M324.05 609.45V613.25" stroke="#000" stroke-width="1.2" fill="none"/>
<rect x="253.15" y="606.55" width="71.65" height="3.2" fill="#000"/>
<text class="yl" transform="translate(245.4,561.85) rotate(-90) scale(0.88,1)" text-anchor="middle">80</text>
<text class="yl" transform="translate(245.4,607.45) rotate(-90) scale(0.88,1)" text-anchor="middle">0</text>
<text class="yl" transform="translate(234,587.25) rotate(-90) scale(0.85,1)" text-anchor="middle" style="font-size:11px">Counts</text>
<text class="ax" x="247.2" y="623.65">10<tspan class="sup" dx="-0.5" dy="-5.2">0</tspan></text>
<text class="ax" x="314.05" y="623.65">10<tspan class="sup" dx="0.3" dy="-5.2">4</tspan></text>
<text class="fl" x="287.28" y="633.45" text-anchor="middle">FL3-H</text>
<clipPath id="c362_560"><rect x="362.8" y="560.85" width="70.45" height="46.6"/></clipPath>
<g clip-path="url(#c362_560)">
<polygon points="369.77,606.29 371.96,602.63 374.15,599.71 375.91,596.78 377.37,593.12 378.83,589.46 380.29,585.8 381.75,582.88 382.92,581.41 384.09,582.59 385.55,581.41 387.02,580.68 388.04,583.61 389.06,586.54 390.23,588.73 391.69,589.46 392.86,590.93 393.88,592.39 394.91,596.05 396.08,598.98 397.54,601.17 399.29,603.37 401.19,605.12 403.38,606.29 403.38,607.45 369.77,607.45" fill="#c0c0c0" stroke="#111" stroke-width="1.6" stroke-linejoin="round"/>
<polyline points="363.19,605.12 365.38,607.75 368.31,607.75 371.23,605.56 374.15,604.54 377.08,604.1 380,604.54 382.92,605.12 385.12,604.54 387.31,602.63 389.5,600.15 391.4,597.22 392.86,594.29 394.32,590.49 395.78,588 397.25,588.73 398.71,591.37 400.17,594.59 401.63,597.51 403.09,600.44 404.55,602.63 406.31,604.54 408.5,607.75 411.42,607.75 433.35,607.75" fill="none" stroke="#000" stroke-width="2.4" stroke-linejoin="round"/>
<rect x="362.8" y="604.54" width="0.83" height="2.91" fill="#000"/>
</g>
<rect x="362.8" y="560.85" width="70.45" height="46.6" fill="none" stroke="#000" stroke-width="1.5"/>
<rect x="360.2" y="560.55" width="3.2" height="47.2" fill="#000"/>
<path d="M357.6 560.85H362.8M357.6 566.68H362.8M357.6 572.5H362.8M357.6 578.33H362.8M357.6 584.15H362.8M357.6 589.98H362.8M357.6 595.8H362.8M357.6 601.62H362.8M357.6 607.45H362.8M362.8 609.45V613.25M368.1 609.45V612.45M371.2 609.45V612.45M373.4 609.45V612.45M375.11 609.45V612.45M376.51 609.45V612.45M377.68 609.45V612.45M378.71 609.45V612.45M379.61 609.45V612.45M380.41 609.45V613.25M385.71 609.45V612.45M388.82 609.45V612.45M391.02 609.45V612.45M392.72 609.45V612.45M394.12 609.45V612.45M395.3 609.45V612.45M396.32 609.45V612.45M397.22 609.45V612.45M398.03 609.45V613.25M403.33 609.45V612.45M406.43 609.45V612.45M408.63 609.45V612.45M410.34 609.45V612.45M411.73 609.45V612.45M412.91 609.45V612.45M413.93 609.45V612.45M414.83 609.45V612.45M415.64 609.45V613.25M420.94 609.45V612.45M424.04 609.45V612.45M426.24 609.45V612.45M427.95 609.45V612.45M429.34 609.45V612.45M430.52 609.45V612.45M431.54 609.45V612.45M432.44 609.45V612.45M433.25 609.45V613.25" stroke="#000" stroke-width="1.2" fill="none"/>
<rect x="362.05" y="606.55" width="71.95" height="3.2" fill="#000"/>
<text class="yl" transform="translate(354.3,561.85) rotate(-90) scale(0.88,1)" text-anchor="middle">80</text>
<text class="yl" transform="translate(354.3,607.45) rotate(-90) scale(0.88,1)" text-anchor="middle">0</text>
<text class="yl" transform="translate(342.9,587.25) rotate(-90) scale(0.85,1)" text-anchor="middle" style="font-size:11px">Counts</text>
<text class="ax" x="356.1" y="623.65">10<tspan class="sup" dx="-0.5" dy="-5.2">0</tspan></text>
<text class="ax" x="423.25" y="623.65">10<tspan class="sup" dx="0.3" dy="-5.2">4</tspan></text>
<text class="fl" x="396.33" y="633.45" text-anchor="middle">FL3-H</text>
<text class="rl" transform="translate(448.9,679.9) scale(0.68,1)">Adβ-gal</text>
<clipPath id="c29_651"><rect x="29.8" y="651.05" width="69.05" height="46.6"/></clipPath>
<g clip-path="url(#c29_651)">
<polygon points="33.12,697.02 33.55,677.27 34.58,675.8 36.04,676.54 37.5,675.8 38.96,675.07 40.42,676.54 41.88,678.73 43.35,682.39 44.81,686.05 46.27,689.71 47.73,692.63 49.63,695.12 52.12,696.59 55.04,697.02 55.04,697.65 33.12,697.65" fill="#c0c0c0" stroke="#111" stroke-width="1.6" stroke-linejoin="round"/>
<polyline points="33.12,656.78 33.55,664.1 34.14,669.95 35.02,675.8 36.04,680.93 37.06,685.32 38.23,688.98 39.69,692.63 41.45,695.12 43.35,697.95 46.27,697.95 99.18,697.95" fill="none" stroke="#000" stroke-width="2.4" stroke-linejoin="round"/>
<rect x="29.8" y="650.93" width="3.32" height="46.72" fill="#000"/>
</g>
<rect x="29.8" y="651.05" width="69.05" height="46.6" fill="none" stroke="#000" stroke-width="1.5"/>
<rect x="27.2" y="650.75" width="3.4" height="47.2" fill="#000"/>
<path d="M24.6 651.05H29.8M24.6 656.88H29.8M24.6 662.7H29.8M24.6 668.52H29.8M24.6 674.35H29.8M24.6 680.17H29.8M24.6 686H29.8M24.6 691.82H29.8M24.6 697.65H29.8M29.8 699.65V703.45M35 699.65V702.65M38.04 699.65V702.65M40.19 699.65V702.65M41.87 699.65V702.65M43.23 699.65V702.65M44.39 699.65V702.65M45.39 699.65V702.65M46.27 699.65V702.65M47.06 699.65V703.45M52.26 699.65V702.65M55.3 699.65V702.65M57.46 699.65V702.65M59.13 699.65V702.65M60.5 699.65V702.65M61.65 699.65V702.65M62.65 699.65V702.65M63.54 699.65V702.65M64.33 699.65V703.45M69.52 699.65V702.65M72.56 699.65V702.65M74.72 699.65V702.65M76.39 699.65V702.65M77.76 699.65V702.65M78.91 699.65V702.65M79.91 699.65V702.65M80.8 699.65V702.65M81.59 699.65V703.45M86.78 699.65V702.65M89.82 699.65V702.65M91.98 699.65V702.65M93.65 699.65V702.65M95.02 699.65V702.65M96.18 699.65V702.65M97.18 699.65V702.65M98.06 699.65V702.65M98.85 699.65V703.45" stroke="#000" stroke-width="1.2" fill="none"/>
<rect x="29.05" y="696.75" width="70.55" height="3.2" fill="#000"/>
<text class="yl" transform="translate(21.3,652.05) rotate(-90) scale(0.88,1)" text-anchor="middle">80</text>
<text class="yl" transform="translate(21.3,697.65) rotate(-90) scale(0.88,1)" text-anchor="middle">0</text>
<text class="yl" transform="translate(9.9,677.45) rotate(-90) scale(0.85,1)" text-anchor="middle" style="font-size:11px">Counts</text>
<text class="ax" x="23.1" y="713.85">10<tspan class="sup" dx="-0.5" dy="-5.2">0</tspan></text>
<text class="ax" x="88.85" y="713.85">10<tspan class="sup" dx="0.3" dy="-5.2">4</tspan></text>
<text class="fl" x="62.62" y="723.65" text-anchor="middle">FL3-H</text>
<clipPath id="c141_651"><rect x="141.2" y="651.05" width="70.55" height="46.6"/></clipPath>
<g clip-path="url(#c141_651)">
<polygon points="150.69,696.29 153.62,694.54 155.81,691.9 157.71,688.98 159.17,685.32 160.63,681.66 162.09,678 163.55,675.07 165.31,675.51 167.06,673.17 168.23,671.41 169.4,672.59 170.42,675.8 171.15,680.2 171.88,684.59 172.91,688.98 174.08,691.9 175.54,694.54 177.29,696 179.19,696.73 179.19,697.65 150.69,697.65" fill="#c0c0c0" stroke="#111" stroke-width="1.6" stroke-linejoin="round"/>
<polyline points="141.19,692.63 143.09,694.54 145.58,697.95 148.5,695.56 151.42,694.83 154.35,694.1 157.27,693.37 160.19,692.63 163.12,692.2 166.04,691.9 168.23,691.17 169.98,689.27 171.45,685.32 172.32,678.73 172.91,671.41 173.78,665.56 175.25,662.63 177.29,663.37 178.46,667.76 179.34,673.61 180.22,679.46 181.09,685.32 181.97,689.71 183.14,693.37 185.04,695.56 187.96,697.95 211.35,697.95" fill="none" stroke="#000" stroke-width="2.4" stroke-linejoin="round"/>
<rect x="141.2" y="691.9" width="1.45" height="5.75" fill="#000"/>
</g>
<rect x="141.2" y="651.05" width="70.55" height="46.6" fill="none" stroke="#000" stroke-width="1.5"/>
<rect x="138.6" y="650.75" width="3.6" height="47.2" fill="#000"/>
<path d="M136 651.05H141.2M136 656.88H141.2M136 662.7H141.2M136 668.52H141.2M136 674.35H141.2M136 680.17H141.2M136 686H141.2M136 691.82H141.2M136 697.65H141.2M141.2 699.65V703.45M146.51 699.65V702.65M149.62 699.65V702.65M151.82 699.65V702.65M153.53 699.65V702.65M154.92 699.65V702.65M156.11 699.65V702.65M157.13 699.65V702.65M158.03 699.65V702.65M158.84 699.65V703.45M164.15 699.65V702.65M167.25 699.65V702.65M169.46 699.65V702.65M171.17 699.65V702.65M172.56 699.65V702.65M173.74 699.65V702.65M174.77 699.65V702.65M175.67 699.65V702.65M176.47 699.65V703.45M181.78 699.65V702.65M184.89 699.65V702.65M187.09 699.65V702.65M188.8 699.65V702.65M190.2 699.65V702.65M191.38 699.65V702.65M192.4 699.65V702.65M193.31 699.65V702.65M194.11 699.65V703.45M199.42 699.65V702.65M202.53 699.65V702.65M204.73 699.65V702.65M206.44 699.65V702.65M207.84 699.65V702.65M209.02 699.65V702.65M210.04 699.65V702.65M210.94 699.65V702.65M211.75 699.65V703.45" stroke="#000" stroke-width="1.2" fill="none"/>
<rect x="140.45" y="696.75" width="72.05" height="3.2" fill="#000"/>
<text class="yl" transform="translate(132.7,652.05) rotate(-90) scale(0.88,1)" text-anchor="middle">80</text>
<text class="yl" transform="translate(132.7,697.65) rotate(-90) scale(0.88,1)" text-anchor="middle">0</text>
<text class="yl" transform="translate(121.3,677.45) rotate(-90) scale(0.85,1)" text-anchor="middle" style="font-size:11px">Counts</text>
<text class="ax" x="134.5" y="713.85">10<tspan class="sup" dx="-0.5" dy="-5.2">0</tspan></text>
<text class="ax" x="201.75" y="713.85">10<tspan class="sup" dx="0.3" dy="-5.2">4</tspan></text>
<text class="fl" x="174.78" y="723.65" text-anchor="middle">FL3-H</text>
<clipPath id="c253_651"><rect x="253.9" y="651.05" width="70.15" height="46.6"/></clipPath>
<g clip-path="url(#c253_651)">
<polygon points="257.85,696.29 258.14,683.12 259.31,680.93 260.77,681.37 262.23,680.2 263.69,680.93 265.15,679.9 266.62,679.46 267.78,680.93 269.25,683.12 270.71,684.88 272.17,686.34 273.63,687.22 275.09,688.24 276.55,689.71 277.58,691.9 278.6,694.1 280.5,695.56 282.69,696.29 282.69,697.65 257.85,697.65" fill="#c0c0c0" stroke="#111" stroke-width="1.6" stroke-linejoin="round"/>
<polyline points="257.55,673.61 258.58,686.05 259.6,691.9 261.06,694.54 263.69,695.56 266.62,695.12 269.54,694.54 272.46,693.66 275.38,692.63 278.02,691.9 280.06,691.17 281.23,688.24 282.4,683.12 283.42,677.27 284.45,669.95 285.32,662.63 285.91,659.71 287.08,659.71 288.25,663.37 289.27,668.49 290.29,674.34 291.46,679.46 292.63,683.85 293.8,688.24 295.12,691.9 296.58,694.54 298.77,697.95 301.69,697.95 324.35,697.95" fill="none" stroke="#000" stroke-width="2.4" stroke-linejoin="round"/>
<rect x="253.9" y="651.22" width="3.65" height="46.43" fill="#000"/>
</g>
<rect x="253.9" y="651.05" width="70.15" height="46.6" fill="none" stroke="#000" stroke-width="1.5"/>
<rect x="251.3" y="650.75" width="5.6" height="47.2" fill="#000"/>
<path d="M248.7 651.05H253.9M248.7 656.88H253.9M248.7 662.7H253.9M248.7 668.52H253.9M248.7 674.35H253.9M248.7 680.17H253.9M248.7 686H253.9M248.7 691.82H253.9M248.7 697.65H253.9M253.9 699.65V703.45M259.18 699.65V702.65M262.27 699.65V702.65M264.46 699.65V702.65M266.16 699.65V702.65M267.55 699.65V702.65M268.72 699.65V702.65M269.74 699.65V702.65M270.64 699.65V702.65M271.44 699.65V703.45M276.72 699.65V702.65M279.81 699.65V702.65M282 699.65V702.65M283.7 699.65V702.65M285.08 699.65V702.65M286.26 699.65V702.65M287.28 699.65V702.65M288.17 699.65V702.65M288.98 699.65V703.45M294.25 699.65V702.65M297.34 699.65V702.65M299.53 699.65V702.65M301.23 699.65V702.65M302.62 699.65V702.65M303.8 699.65V702.65M304.81 699.65V702.65M305.71 699.65V702.65M306.51 699.65V703.45M311.79 699.65V702.65M314.88 699.65V702.65M317.07 699.65V702.65M318.77 699.65V702.65M320.16 699.65V702.65M321.33 699.65V702.65M322.35 699.65V702.65M323.25 699.65V702.65M324.05 699.65V703.45" stroke="#000" stroke-width="1.2" fill="none"/>
<rect x="253.15" y="696.75" width="71.65" height="3.2" fill="#000"/>
<text class="yl" transform="translate(245.4,652.05) rotate(-90) scale(0.88,1)" text-anchor="middle">80</text>
<text class="yl" transform="translate(245.4,697.65) rotate(-90) scale(0.88,1)" text-anchor="middle">0</text>
<text class="yl" transform="translate(234,677.45) rotate(-90) scale(0.85,1)" text-anchor="middle" style="font-size:11px">Counts</text>
<text class="ax" x="247.2" y="713.85">10<tspan class="sup" dx="-0.5" dy="-5.2">0</tspan></text>
<text class="ax" x="314.05" y="713.85">10<tspan class="sup" dx="0.3" dy="-5.2">4</tspan></text>
<text class="fl" x="287.28" y="723.65" text-anchor="middle">FL3-H</text>
<clipPath id="c362_651"><rect x="362.8" y="651.05" width="70.45" height="46.6"/></clipPath>
<g clip-path="url(#c362_651)">
<polygon points="371.23,696.29 373.42,694.54 375.62,692.63 377.37,690.44 379.27,688.68 381.46,687.51 383.65,686.34 385.55,685.32 387.02,683.41 388.18,682.83 389.5,684.29 390.96,685.32 392.42,684.29 394.32,685.32 396.08,686.34 397.83,687.51 399.29,688.98 401.19,690.44 403.38,691.9 405.58,694.1 407.77,696.29 407.77,697.65 371.23,697.65" fill="#c0c0c0" stroke="#111" stroke-width="1.6" stroke-linejoin="round"/>
<polyline points="363.19,694.83 366.12,696 369.04,697.95 371.96,695.12 374.88,694.54 377.81,694.1 380.73,693.37 383.65,692.63 386.58,691.61 389.5,689.71 391.69,687.51 393.45,684.59 394.91,680.93 396.37,677.27 397.83,675.07 399.29,673.61 400.75,675.07 401.92,678 403.09,680.93 404.26,684.59 405.43,688.24 406.6,691.61 407.77,694.54 409.52,697.95 412.15,697.95 433.35,697.95" fill="none" stroke="#000" stroke-width="2.4" stroke-linejoin="round"/>
<rect x="362.8" y="694.54" width="0.83" height="3.11" fill="#000"/>
</g>
<rect x="362.8" y="651.05" width="70.45" height="46.6" fill="none" stroke="#000" stroke-width="1.5"/>
<rect x="360.2" y="650.75" width="3.2" height="47.2" fill="#000"/>
<path d="M357.6 651.05H362.8M357.6 656.88H362.8M357.6 662.7H362.8M357.6 668.52H362.8M357.6 674.35H362.8M357.6 680.17H362.8M357.6 686H362.8M357.6 691.82H362.8M357.6 697.65H362.8M362.8 699.65V703.45M368.1 699.65V702.65M371.2 699.65V702.65M373.4 699.65V702.65M375.11 699.65V702.65M376.51 699.65V702.65M377.68 699.65V702.65M378.71 699.65V702.65M379.61 699.65V702.65M380.41 699.65V703.45M385.71 699.65V702.65M388.82 699.65V702.65M391.02 699.65V702.65M392.72 699.65V702.65M394.12 699.65V702.65M395.3 699.65V702.65M396.32 699.65V702.65M397.22 699.65V702.65M398.03 699.65V703.45M403.33 699.65V702.65M406.43 699.65V702.65M408.63 699.65V702.65M410.34 699.65V702.65M411.73 699.65V702.65M412.91 699.65V702.65M413.93 699.65V702.65M414.83 699.65V702.65M415.64 699.65V703.45M420.94 699.65V702.65M424.04 699.65V702.65M426.24 699.65V702.65M427.95 699.65V702.65M429.34 699.65V702.65M430.52 699.65V702.65M431.54 699.65V702.65M432.44 699.65V702.65M433.25 699.65V703.45" stroke="#000" stroke-width="1.2" fill="none"/>
<rect x="362.05" y="696.75" width="71.95" height="3.2" fill="#000"/>
<text class="yl" transform="translate(354.3,652.05) rotate(-90) scale(0.88,1)" text-anchor="middle">80</text>
<text class="yl" transform="translate(354.3,697.65) rotate(-90) scale(0.88,1)" text-anchor="middle">0</text>
<text class="yl" transform="translate(342.9,677.45) rotate(-90) scale(0.85,1)" text-anchor="middle" style="font-size:11px">Counts</text>
<text class="ax" x="356.1" y="713.85">10<tspan class="sup" dx="-0.5" dy="-5.2">0</tspan></text>
<text class="ax" x="423.25" y="713.85">10<tspan class="sup" dx="0.3" dy="-5.2">4</tspan></text>
<text class="fl" x="396.33" y="723.65" text-anchor="middle">FL3-H</text>
<text class="rl" transform="translate(448.9,774.2) scale(0.685,1)">AdNIKdn</text>
<clipPath id="c29_739"><rect x="29.8" y="739.05" width="69.05" height="46.6"/></clipPath>
<g clip-path="url(#c29_739)">
<polygon points="33.12,785.02 33.55,775.51 34.58,776.24 36.04,774.05 37.5,771.12 38.52,768.93 39.69,765.27 40.86,762.34 41.88,760.88 43.35,759.41 44.81,757.22 45.83,757.95 47,760.15 48.17,762.34 49.19,765.27 49.92,768.93 50.65,773.32 51.38,777.71 52.55,781.37 54.02,783.56 56.5,784.73 56.5,785.65 33.12,785.65" fill="#c0c0c0" stroke="#111" stroke-width="1.6" stroke-linejoin="round"/>
<polyline points="33.12,741.85 33.85,752.1 34.58,760.88 35.6,766.73 36.77,770.39 38.23,774.05 39.98,777.71 41.88,780.63 44.08,782.83 47,785.95 51.38,785.95 99.18,785.95" fill="none" stroke="#000" stroke-width="2.4" stroke-linejoin="round"/>
<rect x="29.8" y="738.93" width="3.32" height="46.72" fill="#000"/>
</g>
<rect x="29.8" y="739.05" width="69.05" height="46.6" fill="none" stroke="#000" stroke-width="1.5"/>
<rect x="27.2" y="738.75" width="3.4" height="47.2" fill="#000"/>
<path d="M24.6 739.05H29.8M24.6 744.88H29.8M24.6 750.7H29.8M24.6 756.52H29.8M24.6 762.35H29.8M24.6 768.17H29.8M24.6 774H29.8M24.6 779.82H29.8M24.6 785.65H29.8M29.8 787.65V791.45M35 787.65V790.65M38.04 787.65V790.65M40.19 787.65V790.65M41.87 787.65V790.65M43.23 787.65V790.65M44.39 787.65V790.65M45.39 787.65V790.65M46.27 787.65V790.65M47.06 787.65V791.45M52.26 787.65V790.65M55.3 787.65V790.65M57.46 787.65V790.65M59.13 787.65V790.65M60.5 787.65V790.65M61.65 787.65V790.65M62.65 787.65V790.65M63.54 787.65V790.65M64.33 787.65V791.45M69.52 787.65V790.65M72.56 787.65V790.65M74.72 787.65V790.65M76.39 787.65V790.65M77.76 787.65V790.65M78.91 787.65V790.65M79.91 787.65V790.65M80.8 787.65V790.65M81.59 787.65V791.45M86.78 787.65V790.65M89.82 787.65V790.65M91.98 787.65V790.65M93.65 787.65V790.65M95.02 787.65V790.65M96.18 787.65V790.65M97.18 787.65V790.65M98.06 787.65V790.65M98.85 787.65V791.45" stroke="#000" stroke-width="1.2" fill="none"/>
<rect x="29.05" y="784.75" width="70.55" height="3.2" fill="#000"/>
<text class="yl" transform="translate(21.3,740.05) rotate(-90) scale(0.88,1)" text-anchor="middle">80</text>
<text class="yl" transform="translate(21.3,785.65) rotate(-90) scale(0.88,1)" text-anchor="middle">0</text>
<text class="yl" transform="translate(9.9,765.45) rotate(-90) scale(0.85,1)" text-anchor="middle" style="font-size:11px">Counts</text>
<text class="ax" x="23.1" y="801.85">10<tspan class="sup" dx="-0.5" dy="-5.2">0</tspan></text>
<text class="ax" x="88.85" y="801.85">10<tspan class="sup" dx="0.3" dy="-5.2">4</tspan></text>
<text class="fl" x="62.62" y="811.65" text-anchor="middle">FL3-H</text>
<clipPath id="c141_739"><rect x="141.2" y="739.05" width="70.55" height="46.6"/></clipPath>
<g clip-path="url(#c141_739)">
<polygon points="150.69,784.59 152.88,783.56 155.08,782.1 156.83,779.9 158.73,777.71 160.19,775.22 161.65,772.59 163.12,769.66 164.58,766.73 166.04,763.8 167.5,761.17 168.52,760.59 169.69,762.05 170.86,764.54 171.74,768.2 172.62,772.59 173.49,776.24 174.81,779.17 176.27,781.37 178.17,783.12 180.65,784.29 180.65,785.65 150.69,785.65" fill="#c0c0c0" stroke="#111" stroke-width="1.6" stroke-linejoin="round"/>
<polyline points="141.19,782.1 143.38,783.56 146.31,785.95 149.23,784 152.15,783.56 155.08,783.12 158,782.83 160.92,782.54 163.85,782.1 166.77,781.66 168.96,780.63 170.42,779.17 171.45,776.24 172.32,771.12 173.2,763.8 174.08,756.49 174.95,750.63 175.83,749.17 177.73,749.46 178.46,754.29 179.19,760.88 179.92,766.73 180.8,772.59 181.68,777.71 182.85,781.37 184.6,783.56 187.23,785.95 211.35,785.95" fill="none" stroke="#000" stroke-width="2.4" stroke-linejoin="round"/>
<rect x="141.2" y="781.66" width="1.45" height="3.99" fill="#000"/>
</g>
<rect x="141.2" y="739.05" width="70.55" height="46.6" fill="none" stroke="#000" stroke-width="1.5"/>
<rect x="138.6" y="738.75" width="3.6" height="47.2" fill="#000"/>
<path d="M136 739.05H141.2M136 744.88H141.2M136 750.7H141.2M136 756.52H141.2M136 762.35H141.2M136 768.17H141.2M136 774H141.2M136 779.82H141.2M136 785.65H141.2M141.2 787.65V791.45M146.51 787.65V790.65M149.62 787.65V790.65M151.82 787.65V790.65M153.53 787.65V790.65M154.92 787.65V790.65M156.11 787.65V790.65M157.13 787.65V790.65M158.03 787.65V790.65M158.84 787.65V791.45M164.15 787.65V790.65M167.25 787.65V790.65M169.46 787.65V790.65M171.17 787.65V790.65M172.56 787.65V790.65M173.74 787.65V790.65M174.77 787.65V790.65M175.67 787.65V790.65M176.47 787.65V791.45M181.78 787.65V790.65M184.89 787.65V790.65M187.09 787.65V790.65M188.8 787.65V790.65M190.2 787.65V790.65M191.38 787.65V790.65M192.4 787.65V790.65M193.31 787.65V790.65M194.11 787.65V791.45M199.42 787.65V790.65M202.53 787.65V790.65M204.73 787.65V790.65M206.44 787.65V790.65M207.84 787.65V790.65M209.02 787.65V790.65M210.04 787.65V790.65M210.94 787.65V790.65M211.75 787.65V791.45" stroke="#000" stroke-width="1.2" fill="none"/>
<rect x="140.45" y="784.75" width="72.05" height="3.2" fill="#000"/>
<text class="yl" transform="translate(132.7,740.05) rotate(-90) scale(0.88,1)" text-anchor="middle">80</text>
<text class="yl" transform="translate(132.7,785.65) rotate(-90) scale(0.88,1)" text-anchor="middle">0</text>
<text class="yl" transform="translate(121.3,765.45) rotate(-90) scale(0.85,1)" text-anchor="middle" style="font-size:11px">Counts</text>
<text class="ax" x="134.5" y="801.85">10<tspan class="sup" dx="-0.5" dy="-5.2">0</tspan></text>
<text class="ax" x="201.75" y="801.85">10<tspan class="sup" dx="0.3" dy="-5.2">4</tspan></text>
<text class="fl" x="174.78" y="811.65" text-anchor="middle">FL3-H</text>
<clipPath id="c253_739"><rect x="253.9" y="739.05" width="70.15" height="46.6"/></clipPath>
<g clip-path="url(#c253_739)">
<polygon points="257.85,784.29 258.14,776.24 259.6,775.22 261.06,774.34 262.52,773.76 263.98,773.32 265.45,772.29 266.62,773.76 267.78,771.85 268.81,771.12 269.83,772.59 271,774.34 272.46,775.51 274.22,776.24 276.12,776.68 278.02,777.71 279.48,778.44 281.23,779.61 282.69,779.17 284.15,779.9 286.35,781.66 288.54,782.83 291.17,783.71 294.38,784.59 294.38,785.65 257.85,785.65" fill="#c0c0c0" stroke="#111" stroke-width="1.6" stroke-linejoin="round"/>
<polyline points="257.85,758.68 258.58,772.59 259.6,778.44 261.06,782.1 263.69,783.12 266.62,782.83 269.54,782.54 272.46,781.66 275.38,780.63 278.31,779.9 280.06,778.44 281.23,775.51 282.4,770.39 283.42,763.8 284.45,756.49 285.32,750.63 286.35,747.71 287.37,749.17 288.25,753.56 289.27,759.41 290.29,765.27 291.46,770.39 292.63,774.78 294.09,778.44 295.55,781.37 297.31,783.56 300.23,785.95 324.35,785.95" fill="none" stroke="#000" stroke-width="2.4" stroke-linejoin="round"/>
<rect x="253.9" y="757.95" width="3.95" height="27.7" fill="#000"/>
</g>
<rect x="253.9" y="739.05" width="70.15" height="46.6" fill="none" stroke="#000" stroke-width="1.5"/>
<rect x="251.3" y="738.75" width="5.6" height="47.2" fill="#000"/>
<path d="M248.7 739.05H253.9M248.7 744.88H253.9M248.7 750.7H253.9M248.7 756.52H253.9M248.7 762.35H253.9M248.7 768.17H253.9M248.7 774H253.9M248.7 779.82H253.9M248.7 785.65H253.9M253.9 787.65V791.45M259.18 787.65V790.65M262.27 787.65V790.65M264.46 787.65V790.65M266.16 787.65V790.65M267.55 787.65V790.65M268.72 787.65V790.65M269.74 787.65V790.65M270.64 787.65V790.65M271.44 787.65V791.45M276.72 787.65V790.65M279.81 787.65V790.65M282 787.65V790.65M283.7 787.65V790.65M285.08 787.65V790.65M286.26 787.65V790.65M287.28 787.65V790.65M288.17 787.65V790.65M288.98 787.65V791.45M294.25 787.65V790.65M297.34 787.65V790.65M299.53 787.65V790.65M301.23 787.65V790.65M302.62 787.65V790.65M303.8 787.65V790.65M304.81 787.65V790.65M305.71 787.65V790.65M306.51 787.65V791.45M311.79 787.65V790.65M314.88 787.65V790.65M317.07 787.65V790.65M318.77 787.65V790.65M320.16 787.65V790.65M321.33 787.65V790.65M322.35 787.65V790.65M323.25 787.65V790.65M324.05 787.65V791.45" stroke="#000" stroke-width="1.2" fill="none"/>
<rect x="253.15" y="784.75" width="71.65" height="3.2" fill="#000"/>
<text class="yl" transform="translate(245.4,740.05) rotate(-90) scale(0.88,1)" text-anchor="middle">80</text>
<text class="yl" transform="translate(245.4,785.65) rotate(-90) scale(0.88,1)" text-anchor="middle">0</text>
<text class="yl" transform="translate(234,765.45) rotate(-90) scale(0.85,1)" text-anchor="middle" style="font-size:11px">Counts</text>
<text class="ax" x="247.2" y="801.85">10<tspan class="sup" dx="-0.5" dy="-5.2">0</tspan></text>
<text class="ax" x="314.05" y="801.85">10<tspan class="sup" dx="0.3" dy="-5.2">4</tspan></text>
<text class="fl" x="287.28" y="811.65" text-anchor="middle">FL3-H</text>
<clipPath id="c362_739"><rect x="362.8" y="739.05" width="70.45" height="46.6"/></clipPath>
<g clip-path="url(#c362_739)">
<polygon points="371.23,784.59 373.42,782.1 375.62,780.63 377.81,779.61 380,778.44 382.19,776.98 384.38,775.8 386.58,774.34 388.77,772.59 390.96,771.85 392.42,772.59 393.88,774.34 395.35,775.8 396.81,777.71 398.27,779.17 399.73,779.9 401.19,780.63 403.09,781.66 404.85,782.83 407.04,784 409.23,784.73 409.23,785.65 371.23,785.65" fill="#c0c0c0" stroke="#111" stroke-width="1.6" stroke-linejoin="round"/>
<polyline points="363.63,772.59 364.22,779.9 365.38,783.12 367.58,785.95 370.5,784 373.42,783.12 376.35,782.54 379.27,781.66 382.19,780.63 385.12,779.17 388.04,777.27 390.23,775.22 392.42,773.32 394.62,771.41 396.81,769.95 399,768.93 401.19,767.46 403.09,766.73 404.55,768.93 405.72,772.59 407.04,776.24 408.5,779.9 409.96,782.54 411.86,785.95 415.08,785.95 433.35,785.95" fill="none" stroke="#000" stroke-width="2.4" stroke-linejoin="round"/>
<rect x="362.8" y="771.85" width="1.42" height="13.8" fill="#000"/>
</g>
<rect x="362.8" y="739.05" width="70.45" height="46.6" fill="none" stroke="#000" stroke-width="1.5"/>
<rect x="360.2" y="738.75" width="3.2" height="47.2" fill="#000"/>
<path d="M357.6 739.05H362.8M357.6 744.88H362.8M357.6 750.7H362.8M357.6 756.52H362.8M357.6 762.35H362.8M357.6 768.17H362.8M357.6 774H362.8M357.6 779.82H362.8M357.6 785.65H362.8M362.8 787.65V791.45M368.1 787.65V790.65M371.2 787.65V790.65M373.4 787.65V790.65M375.11 787.65V790.65M376.51 787.65V790.65M377.68 787.65V790.65M378.71 787.65V790.65M379.61 787.65V790.65M380.41 787.65V791.45M385.71 787.65V790.65M388.82 787.65V790.65M391.02 787.65V790.65M392.72 787.65V790.65M394.12 787.65V790.65M395.3 787.65V790.65M396.32 787.65V790.65M397.22 787.65V790.65M398.03 787.65V791.45M403.33 787.65V790.65M406.43 787.65V790.65M408.63 787.65V790.65M410.34 787.65V790.65M411.73 787.65V790.65M412.91 787.65V790.65M413.93 787.65V790.65M414.83 787.65V790.65M415.64 787.65V791.45M420.94 787.65V790.65M424.04 787.65V790.65M426.24 787.65V790.65M427.95 787.65V790.65M429.34 787.65V790.65M430.52 787.65V790.65M431.54 787.65V790.65M432.44 787.65V790.65M433.25 787.65V791.45" stroke="#000" stroke-width="1.2" fill="none"/>
<rect x="362.05" y="784.75" width="71.95" height="3.2" fill="#000"/>
<text class="yl" transform="translate(354.3,740.05) rotate(-90) scale(0.88,1)" text-anchor="middle">80</text>
<text class="yl" transform="translate(354.3,785.65) rotate(-90) scale(0.88,1)" text-anchor="middle">0</text>
<text class="yl" transform="translate(342.9,765.45) rotate(-90) scale(0.85,1)" text-anchor="middle" style="font-size:11px">Counts</text>
<text class="ax" x="356.1" y="801.85">10<tspan class="sup" dx="-0.5" dy="-5.2">0</tspan></text>
<text class="ax" x="423.25" y="801.85">10<tspan class="sup" dx="0.3" dy="-5.2">4</tspan></text>
<text class="fl" x="396.33" y="811.65" text-anchor="middle">FL3-H</text>
<text class="rl" transform="translate(448.9,861.5) scale(0.668,1)">AdIKK2dn</text>
<clipPath id="c29_825"><rect x="29.8" y="825.4" width="69.05" height="46.6"/></clipPath>
<g clip-path="url(#c29_825)">
<polygon points="33.12,872 33.55,860.32 34.58,859.59 36.04,857.39 37.94,853 39.69,849.34 41.45,846.71 43.35,846.12 45.25,846.71 46.71,848.61 47.73,851.54 48.75,855.93 49.63,861.05 50.22,865.44 50.95,869.1 52.12,871.29 55.04,871.88 55.04,872 33.12,872" fill="#c0c0c0" stroke="#111" stroke-width="1.6" stroke-linejoin="round"/>
<polyline points="33.12,828.85 33.41,834.71 34.58,846.41 35.6,852.27 36.48,855.34 38.23,858.85 40.42,862.22 43.35,864.56 45.54,866.9 48.02,868.95 50.65,872.3 53.43,872.3 57.23,872.3 99.18,872.3" fill="none" stroke="#000" stroke-width="2.4" stroke-linejoin="round"/>
<rect x="29.8" y="825.63" width="3.32" height="46.37" fill="#000"/>
</g>
<rect x="29.8" y="825.4" width="69.05" height="46.6" fill="none" stroke="#000" stroke-width="1.5"/>
<rect x="27.2" y="825.1" width="3.4" height="47.2" fill="#000"/>
<path d="M24.6 825.4H29.8M24.6 831.23H29.8M24.6 837.05H29.8M24.6 842.88H29.8M24.6 848.7H29.8M24.6 854.52H29.8M24.6 860.35H29.8M24.6 866.17H29.8M24.6 872H29.8M29.8 874V877.8M35 874V877M38.04 874V877M40.19 874V877M41.87 874V877M43.23 874V877M44.39 874V877M45.39 874V877M46.27 874V877M47.06 874V877.8M52.26 874V877M55.3 874V877M57.46 874V877M59.13 874V877M60.5 874V877M61.65 874V877M62.65 874V877M63.54 874V877M64.33 874V877.8M69.52 874V877M72.56 874V877M74.72 874V877M76.39 874V877M77.76 874V877M78.91 874V877M79.91 874V877M80.8 874V877M81.59 874V877.8M86.78 874V877M89.82 874V877M91.98 874V877M93.65 874V877M95.02 874V877M96.18 874V877M97.18 874V877M98.06 874V877M98.85 874V877.8" stroke="#000" stroke-width="1.2" fill="none"/>
<rect x="29.05" y="871.1" width="70.55" height="3.2" fill="#000"/>
<text class="yl" transform="translate(21.3,826.4) rotate(-90) scale(0.88,1)" text-anchor="middle">80</text>
<text class="yl" transform="translate(21.3,872) rotate(-90) scale(0.88,1)" text-anchor="middle">0</text>
<text class="yl" transform="translate(9.9,851.8) rotate(-90) scale(0.85,1)" text-anchor="middle" style="font-size:11px">Counts</text>
<text class="ax" x="23.1" y="888.2">10<tspan class="sup" dx="-0.5" dy="-5.2">0</tspan></text>
<text class="ax" x="88.85" y="888.2">10<tspan class="sup" dx="0.3" dy="-5.2">4</tspan></text>
<text class="fl" x="62.62" y="898" text-anchor="middle">FL3-H</text>
<clipPath id="c141_825"><rect x="141.2" y="825.4" width="70.55" height="46.6"/></clipPath>
<g clip-path="url(#c141_825)">
<polygon points="144.85,870.56 145.58,866.9 147.77,866.17 149.52,869.1 152.15,869.54 154.35,867.63 155.81,864.71 157.27,861.05 158.73,857.39 160.19,853.73 161.22,851.1 162.38,849.63 163.55,850.8 165.02,850.07 166.48,850.8 167.94,851.98 169.11,853.73 169.98,857.39 170.86,861.05 171.88,863.98 172.91,866.61 174.37,868.66 176.27,870.56 178.46,871.59 178.46,872 144.85,872" fill="#c0c0c0" stroke="#111" stroke-width="1.6" stroke-linejoin="round"/>
<polyline points="144.12,845.68 144.85,858.12 145.58,865.44 147.04,868.37 149.23,869.54 152.15,870.12 155.08,870.12 158,869.54 160.92,869.1 163.85,868.66 166.77,867.63 168.96,866.17 170.42,863.98 171.45,860.32 172.32,854.46 173.2,847.88 174.08,840.56 174.95,834.71 175.83,833.54 177.29,835.44 178.17,840.56 179.19,847.15 180.22,853.73 181.09,859.59 182.12,864.71 183.14,868.37 185.04,872.3 187.96,872.3 211.35,872.3" fill="none" stroke="#000" stroke-width="2.4" stroke-linejoin="round"/>
<rect x="141.2" y="844.95" width="2.92" height="27.05" fill="#000"/>
</g>
<rect x="141.2" y="825.4" width="70.55" height="46.6" fill="none" stroke="#000" stroke-width="1.5"/>
<rect x="138.6" y="825.1" width="3.6" height="47.2" fill="#000"/>
<path d="M136 825.4H141.2M136 831.23H141.2M136 837.05H141.2M136 842.88H141.2M136 848.7H141.2M136 854.52H141.2M136 860.35H141.2M136 866.17H141.2M136 872H141.2M141.2 874V877.8M146.51 874V877M149.62 874V877M151.82 874V877M153.53 874V877M154.92 874V877M156.11 874V877M157.13 874V877M158.03 874V877M158.84 874V877.8M164.15 874V877M167.25 874V877M169.46 874V877M171.17 874V877M172.56 874V877M173.74 874V877M174.77 874V877M175.67 874V877M176.47 874V877.8M181.78 874V877M184.89 874V877M187.09 874V877M188.8 874V877M190.2 874V877M191.38 874V877M192.4 874V877M193.31 874V877M194.11 874V877.8M199.42 874V877M202.53 874V877M204.73 874V877M206.44 874V877M207.84 874V877M209.02 874V877M210.04 874V877M210.94 874V877M211.75 874V877.8" stroke="#000" stroke-width="1.2" fill="none"/>
<rect x="140.45" y="871.1" width="72.05" height="3.2" fill="#000"/>
<text class="yl" transform="translate(132.7,826.4) rotate(-90) scale(0.88,1)" text-anchor="middle">80</text>
<text class="yl" transform="translate(132.7,872) rotate(-90) scale(0.88,1)" text-anchor="middle">0</text>
<text class="yl" transform="translate(121.3,851.8) rotate(-90) scale(0.85,1)" text-anchor="middle" style="font-size:11px">Counts</text>
<text class="ax" x="134.5" y="888.2">10<tspan class="sup" dx="-0.5" dy="-5.2">0</tspan></text>
<text class="ax" x="201.75" y="888.2">10<tspan class="sup" dx="0.3" dy="-5.2">4</tspan></text>
<text class="fl" x="174.78" y="898" text-anchor="middle">FL3-H</text>
<clipPath id="c253_825"><rect x="253.9" y="825.4" width="70.15" height="46.6"/></clipPath>
<g clip-path="url(#c253_825)">
<polygon points="258.14,871.29 258.58,858.12 259.6,855.2 260.77,853 262.23,851.54 263.69,850.07 265.15,849.05 266.62,850.07 268.08,849.34 269.25,848.61 270.27,851.54 271.29,854.46 272.46,857.39 273.63,860.32 274.65,862.51 275.68,864.71 276.55,866.9 277.58,869.1 279.04,870.56 281.23,871.29 281.23,872 258.14,872" fill="#c0c0c0" stroke="#111" stroke-width="1.6" stroke-linejoin="round"/>
<polyline points="257.55,844.95 258.14,858.12 259.02,865.44 260.48,869.1 262.96,870.12 265.88,870.12 268.81,869.83 271.73,869.54 274.65,868.66 276.85,866.9 278.31,865.44 279.77,864.71 280.94,861.78 281.96,856.66 282.98,851.54 284.15,847.15 285.32,844.95 286.78,844.66 287.81,847.15 288.83,852.27 289.71,858.12 290.73,863.24 291.75,866.9 293.22,869.54 295.55,872.3 298.77,872.3 324.35,872.3" fill="none" stroke="#000" stroke-width="2.4" stroke-linejoin="round"/>
<rect x="253.9" y="844.95" width="3.65" height="27.05" fill="#000"/>
</g>
<rect x="253.9" y="825.4" width="70.15" height="46.6" fill="none" stroke="#000" stroke-width="1.5"/>
<rect x="251.3" y="825.1" width="5.6" height="47.2" fill="#000"/>
<path d="M248.7 825.4H253.9M248.7 831.23H253.9M248.7 837.05H253.9M248.7 842.88H253.9M248.7 848.7H253.9M248.7 854.52H253.9M248.7 860.35H253.9M248.7 866.17H253.9M248.7 872H253.9M253.9 874V877.8M259.18 874V877M262.27 874V877M264.46 874V877M266.16 874V877M267.55 874V877M268.72 874V877M269.74 874V877M270.64 874V877M271.44 874V877.8M276.72 874V877M279.81 874V877M282 874V877M283.7 874V877M285.08 874V877M286.26 874V877M287.28 874V877M288.17 874V877M288.98 874V877.8M294.25 874V877M297.34 874V877M299.53 874V877M301.23 874V877M302.62 874V877M303.8 874V877M304.81 874V877M305.71 874V877M306.51 874V877.8M311.79 874V877M314.88 874V877M317.07 874V877M318.77 874V877M320.16 874V877M321.33 874V877M322.35 874V877M323.25 874V877M324.05 874V877.8" stroke="#000" stroke-width="1.2" fill="none"/>
<rect x="253.15" y="871.1" width="71.65" height="3.2" fill="#000"/>
<text class="yl" transform="translate(245.4,826.4) rotate(-90) scale(0.88,1)" text-anchor="middle">80</text>
<text class="yl" transform="translate(245.4,872) rotate(-90) scale(0.88,1)" text-anchor="middle">0</text>
<text class="yl" transform="translate(234,851.8) rotate(-90) scale(0.85,1)" text-anchor="middle" style="font-size:11px">Counts</text>
<text class="ax" x="247.2" y="888.2">10<tspan class="sup" dx="-0.5" dy="-5.2">0</tspan></text>
<text class="ax" x="314.05" y="888.2">10<tspan class="sup" dx="0.3" dy="-5.2">4</tspan></text>
<text class="fl" x="287.28" y="898" text-anchor="middle">FL3-H</text>
<clipPath id="c362_825"><rect x="362.8" y="825.4" width="70.45" height="46.6"/></clipPath>
<g clip-path="url(#c362_825)">
<polygon points="366.85,871.59 369.04,870.12 371.23,868.37 373.42,866.61 375.62,864.71 377.81,862.8 379.27,861.34 380.73,858.85 382.19,855.93 383.22,853.44 384.38,854.02 385.85,853 387.31,854.46 388.77,853.44 390.23,854.02 391.69,855.49 392.86,857.39 394.32,859.59 396.08,861.34 397.54,862.51 399.29,863.68 401.19,865.44 403.38,867.63 405.58,869.83 407.77,871.29 407.77,872 366.85,872" fill="#c0c0c0" stroke="#111" stroke-width="1.6" stroke-linejoin="round"/>
<polyline points="364.22,856.95 365.09,866.9 366.12,870.12 368.31,872.3 371.23,872.3 374.15,869.83 377.08,869.54 380,869.1 382.92,868.66 385.85,867.63 388.04,866.61 390.23,864.71 391.98,862.51 393.88,859.88 395.78,857.39 397.54,855.49 399.29,854.02 400.75,854.46 402.22,856.37 403.68,858.85 405.14,861.78 406.6,864.71 408.06,866.9 409.96,869.54 412.15,872.3 415.08,872.3 433.35,872.3" fill="none" stroke="#000" stroke-width="2.4" stroke-linejoin="round"/>
<rect x="362.8" y="856.66" width="1.85" height="15.34" fill="#000"/>
</g>
<rect x="362.8" y="825.4" width="70.45" height="46.6" fill="none" stroke="#000" stroke-width="1.5"/>
<rect x="360.2" y="825.1" width="3.2" height="47.2" fill="#000"/>
<path d="M357.6 825.4H362.8M357.6 831.23H362.8M357.6 837.05H362.8M357.6 842.88H362.8M357.6 848.7H362.8M357.6 854.52H362.8M357.6 860.35H362.8M357.6 866.17H362.8M357.6 872H362.8M362.8 874V877.8M368.1 874V877M371.2 874V877M373.4 874V877M375.11 874V877M376.51 874V877M377.68 874V877M378.71 874V877M379.61 874V877M380.41 874V877.8M385.71 874V877M388.82 874V877M391.02 874V877M392.72 874V877M394.12 874V877M395.3 874V877M396.32 874V877M397.22 874V877M398.03 874V877.8M403.33 874V877M406.43 874V877M408.63 874V877M410.34 874V877M411.73 874V877M412.91 874V877M413.93 874V877M414.83 874V877M415.64 874V877.8M420.94 874V877M424.04 874V877M426.24 874V877M427.95 874V877M429.34 874V877M430.52 874V877M431.54 874V877M432.44 874V877M433.25 874V877.8" stroke="#000" stroke-width="1.2" fill="none"/>
<rect x="362.05" y="871.1" width="71.95" height="3.2" fill="#000"/>
<text class="yl" transform="translate(354.3,826.4) rotate(-90) scale(0.88,1)" text-anchor="middle">80</text>
<text class="yl" transform="translate(354.3,872) rotate(-90) scale(0.88,1)" text-anchor="middle">0</text>
<text class="yl" transform="translate(342.9,851.8) rotate(-90) scale(0.85,1)" text-anchor="middle" style="font-size:11px">Counts</text>
<text class="ax" x="356.1" y="888.2">10<tspan class="sup" dx="-0.5" dy="-5.2">0</tspan></text>
<text class="ax" x="423.25" y="888.2">10<tspan class="sup" dx="0.3" dy="-5.2">4</tspan></text>
<text class="fl" x="396.33" y="898" text-anchor="middle">FL3-H</text>
<text class="rl" transform="translate(448.9,943.5) scale(0.715,1)">AdIκBα</text>
<clipPath id="c29_914"><rect x="29.8" y="914.4" width="69.05" height="46.6"/></clipPath>
<g clip-path="url(#c29_914)">
<polygon points="33.55,960.02 34.14,954.9 35.31,950.51 36.48,946.85 37.5,943.93 38.52,941.73 39.4,943.2 40.42,946.12 41.45,949.34 42.62,952.71 43.78,955.63 45.25,957.83 47,959.59 47,961 33.55,961" fill="#c0c0c0" stroke="#111" stroke-width="1.6" stroke-linejoin="round"/>
<polyline points="34.58,940.27 36.04,938.07 37.5,938.07 38.96,939.54 40.42,941 41.88,942.46 42.91,944.66 43.78,947.59 44.81,950.51 45.83,953.44 47,956.37 48.46,958.56 50.65,959.73" fill="none" stroke="#111" stroke-width="1.1" stroke-linejoin="round"/>
<polyline points="33.55,931.49 34.58,935.15 36.04,936.61 37.5,937.34 38.96,937.63 40.42,938.51 41.88,939.54 43.35,941 44.37,943.2 45.25,946.12 46.27,949.34 47.29,952.71 48.46,955.63 49.92,957.83 52.12,959.29 55.77,961.3 99.18,961.3" fill="none" stroke="#000" stroke-width="2.4" stroke-linejoin="round"/>
<rect x="29.8" y="914.22" width="3.75" height="46.78" fill="#000"/>
</g>
<rect x="29.8" y="914.4" width="69.05" height="46.6" fill="none" stroke="#000" stroke-width="1.5"/>
<rect x="27.2" y="914.1" width="3.4" height="47.2" fill="#000"/>
<path d="M24.6 914.4H29.8M24.6 920.23H29.8M24.6 926.05H29.8M24.6 931.88H29.8M24.6 937.7H29.8M24.6 943.52H29.8M24.6 949.35H29.8M24.6 955.17H29.8M24.6 961H29.8M29.8 963V966.8M35 963V966M38.04 963V966M40.19 963V966M41.87 963V966M43.23 963V966M44.39 963V966M45.39 963V966M46.27 963V966M47.06 963V966.8M52.26 963V966M55.3 963V966M57.46 963V966M59.13 963V966M60.5 963V966M61.65 963V966M62.65 963V966M63.54 963V966M64.33 963V966.8M69.52 963V966M72.56 963V966M74.72 963V966M76.39 963V966M77.76 963V966M78.91 963V966M79.91 963V966M80.8 963V966M81.59 963V966.8M86.78 963V966M89.82 963V966M91.98 963V966M93.65 963V966M95.02 963V966M96.18 963V966M97.18 963V966M98.06 963V966M98.85 963V966.8" stroke="#000" stroke-width="1.2" fill="none"/>
<rect x="29.05" y="960.1" width="70.55" height="3.2" fill="#000"/>
<text class="yl" transform="translate(21.3,915.4) rotate(-90) scale(0.88,1)" text-anchor="middle">80</text>
<text class="yl" transform="translate(21.3,961) rotate(-90) scale(0.88,1)" text-anchor="middle">0</text>
<text class="yl" transform="translate(9.9,940.8) rotate(-90) scale(0.85,1)" text-anchor="middle" style="font-size:11px">Counts</text>
<text class="ax" x="23.1" y="977.2">10<tspan class="sup" dx="-0.5" dy="-5.2">0</tspan></text>
<text class="ax" x="88.85" y="977.2">10<tspan class="sup" dx="0.3" dy="-5.2">4</tspan></text>
<text class="fl" x="62.62" y="987" text-anchor="middle">FL3-H</text>
<clipPath id="c141_914"><rect x="141.2" y="914.4" width="70.55" height="46.6"/></clipPath>
<g clip-path="url(#c141_914)">
<polygon points="152.15,960.02 154.35,958.56 156.54,956.37 158.29,953.44 159.75,949.78 161.22,946.12 162.38,942.46 163.55,939.54 164.58,937.34 165.6,936.61 166.77,937.34 167.94,940.27 168.96,943.2 169.98,946.85 171.15,950.51 172.32,954.17 173.49,957.1 174.81,959 176.71,960.02 176.71,961 152.15,961" fill="#c0c0c0" stroke="#111" stroke-width="1.6" stroke-linejoin="round"/>
<polyline points="144.12,936.61 144.85,951.98 145.58,958.12 147.77,959.29 150.69,958.56 153.62,956.66 155.81,954.9 157.71,951.98 159.17,948.32 160.19,943.93 161.22,939.54 162.38,935.88 163.55,934.41 165.02,933.68 166.48,931.49 167.5,928.56 168.23,927.83 169.11,930.02 169.98,934.41 171.15,938.8 172.32,943.2 173.49,947.59 174.66,951.98 175.83,955.63 177.29,958.12 179.63,961.3 182.85,961.3 211.35,961.3" fill="none" stroke="#000" stroke-width="2.4" stroke-linejoin="round"/>
<rect x="141.2" y="935.88" width="2.92" height="25.12" fill="#000"/>
</g>
<rect x="141.2" y="914.4" width="70.55" height="46.6" fill="none" stroke="#000" stroke-width="1.5"/>
<rect x="138.6" y="914.1" width="3.6" height="47.2" fill="#000"/>
<path d="M136 914.4H141.2M136 920.23H141.2M136 926.05H141.2M136 931.88H141.2M136 937.7H141.2M136 943.52H141.2M136 949.35H141.2M136 955.17H141.2M136 961H141.2M141.2 963V966.8M146.51 963V966M149.62 963V966M151.82 963V966M153.53 963V966M154.92 963V966M156.11 963V966M157.13 963V966M158.03 963V966M158.84 963V966.8M164.15 963V966M167.25 963V966M169.46 963V966M171.17 963V966M172.56 963V966M173.74 963V966M174.77 963V966M175.67 963V966M176.47 963V966.8M181.78 963V966M184.89 963V966M187.09 963V966M188.8 963V966M190.2 963V966M191.38 963V966M192.4 963V966M193.31 963V966M194.11 963V966.8M199.42 963V966M202.53 963V966M204.73 963V966M206.44 963V966M207.84 963V966M209.02 963V966M210.04 963V966M210.94 963V966M211.75 963V966.8" stroke="#000" stroke-width="1.2" fill="none"/>
<rect x="140.45" y="960.1" width="72.05" height="3.2" fill="#000"/>
<text class="yl" transform="translate(132.7,915.4) rotate(-90) scale(0.88,1)" text-anchor="middle">80</text>
<text class="yl" transform="translate(132.7,961) rotate(-90) scale(0.88,1)" text-anchor="middle">0</text>
<text class="yl" transform="translate(121.3,940.8) rotate(-90) scale(0.85,1)" text-anchor="middle" style="font-size:11px">Counts</text>
<text class="ax" x="134.5" y="977.2">10<tspan class="sup" dx="-0.5" dy="-5.2">0</tspan></text>
<text class="ax" x="201.75" y="977.2">10<tspan class="sup" dx="0.3" dy="-5.2">4</tspan></text>
<text class="fl" x="174.78" y="987" text-anchor="middle">FL3-H</text>
<clipPath id="c253_914"><rect x="253.9" y="914.4" width="70.15" height="46.6"/></clipPath>
<g clip-path="url(#c253_914)">
<polygon points="257.85,960.02 258.58,954.9 260.04,951.24 261.5,948.32 262.96,945.83 264.42,943.93 265.45,943.49 266.62,944.66 268.08,946.12 269.54,944.95 271,946.12 272.46,948.32 273.92,950.8 275.68,953.44 277.58,955.63 279.77,957.54 281.96,959 284.88,959.88 284.88,961 257.85,961" fill="#c0c0c0" stroke="#111" stroke-width="1.6" stroke-linejoin="round"/>
<polyline points="257.55,932.95 258.14,944.66 259.02,947.59 260.04,944.66 261.06,941 262.52,938.07 263.98,935.88 265.15,935.15 266.32,937.34 267.78,939.54 269.25,938.07 270.71,935.15 272.17,935.15 273.19,937.34 274.22,941 275.38,944.66 276.85,948.32 278.31,951.24 279.77,953.44 281.52,955.63 283.42,957.54 285.62,958.12 287.81,958.56 290,959.29 292.92,961.3 295.85,961.3 300.23,961.3 324.35,961.3" fill="none" stroke="#000" stroke-width="2.4" stroke-linejoin="round"/>
<rect x="253.9" y="932.95" width="3.65" height="28.05" fill="#000"/>
</g>
<rect x="253.9" y="914.4" width="70.15" height="46.6" fill="none" stroke="#000" stroke-width="1.5"/>
<rect x="251.3" y="914.1" width="5.6" height="47.2" fill="#000"/>
<path d="M248.7 914.4H253.9M248.7 920.23H253.9M248.7 926.05H253.9M248.7 931.88H253.9M248.7 937.7H253.9M248.7 943.52H253.9M248.7 949.35H253.9M248.7 955.17H253.9M248.7 961H253.9M253.9 963V966.8M259.18 963V966M262.27 963V966M264.46 963V966M266.16 963V966M267.55 963V966M268.72 963V966M269.74 963V966M270.64 963V966M271.44 963V966.8M276.72 963V966M279.81 963V966M282 963V966M283.7 963V966M285.08 963V966M286.26 963V966M287.28 963V966M288.17 963V966M288.98 963V966.8M294.25 963V966M297.34 963V966M299.53 963V966M301.23 963V966M302.62 963V966M303.8 963V966M304.81 963V966M305.71 963V966M306.51 963V966.8M311.79 963V966M314.88 963V966M317.07 963V966M318.77 963V966M320.16 963V966M321.33 963V966M322.35 963V966M323.25 963V966M324.05 963V966.8" stroke="#000" stroke-width="1.2" fill="none"/>
<rect x="253.15" y="960.1" width="71.65" height="3.2" fill="#000"/>
<text class="yl" transform="translate(245.4,915.4) rotate(-90) scale(0.88,1)" text-anchor="middle">80</text>
<text class="yl" transform="translate(245.4,961) rotate(-90) scale(0.88,1)" text-anchor="middle">0</text>
<text class="yl" transform="translate(234,940.8) rotate(-90) scale(0.85,1)" text-anchor="middle" style="font-size:11px">Counts</text>
<text class="ax" x="247.2" y="977.2">10<tspan class="sup" dx="-0.5" dy="-5.2">0</tspan></text>
<text class="ax" x="314.05" y="977.2">10<tspan class="sup" dx="0.3" dy="-5.2">4</tspan></text>
<text class="fl" x="287.28" y="987" text-anchor="middle">FL3-H</text>
<clipPath id="c362_914"><rect x="362.8" y="914.4" width="70.45" height="46.6"/></clipPath>
<g clip-path="url(#c362_914)">
<polygon points="374.15,960.02 375.62,958.12 377.37,956.37 378.83,954.17 380.29,951.98 381.75,949.34 383.22,947.59 384.68,946.85 386.14,946.12 387.6,945.83 389.06,946.41 390.52,947.59 391.98,947.29 393.45,948.32 394.91,949.34 396.37,951.24 397.83,953.73 399.29,956.07 401.19,958.12 403.38,959.59 403.38,961 374.15,961" fill="#c0c0c0" stroke="#111" stroke-width="1.6" stroke-linejoin="round"/>
<polyline points="363.19,958.12 365.38,959.29 368.31,961.3 370.5,958.56 372.4,955.63 374.15,954.61 375.62,953.73 377.08,952.27 378.54,950.22 380,946.85 381.46,943.93 382.92,942.02 384.38,941.73 385.85,942.9 387.31,941.73 388.77,941 390.23,942.9 391.98,943.49 393.45,942.9 394.91,943.93 396.08,946.12 397.25,948.76 398.71,950.8 400.17,953.44 401.63,955.63 403.38,957.54 405.58,958.56 407.77,959.29 410.69,961.3 433.35,961.3" fill="none" stroke="#000" stroke-width="2.4" stroke-linejoin="round"/>
<rect x="362.8" y="957.54" width="0.83" height="3.46" fill="#000"/>
</g>
<rect x="362.8" y="914.4" width="70.45" height="46.6" fill="none" stroke="#000" stroke-width="1.5"/>
<rect x="360.2" y="914.1" width="3.2" height="47.2" fill="#000"/>
<path d="M357.6 914.4H362.8M357.6 920.23H362.8M357.6 926.05H362.8M357.6 931.88H362.8M357.6 937.7H362.8M357.6 943.52H362.8M357.6 949.35H362.8M357.6 955.17H362.8M357.6 961H362.8M362.8 963V966.8M368.1 963V966M371.2 963V966M373.4 963V966M375.11 963V966M376.51 963V966M377.68 963V966M378.71 963V966M379.61 963V966M380.41 963V966.8M385.71 963V966M388.82 963V966M391.02 963V966M392.72 963V966M394.12 963V966M395.3 963V966M396.32 963V966M397.22 963V966M398.03 963V966.8M403.33 963V966M406.43 963V966M408.63 963V966M410.34 963V966M411.73 963V966M412.91 963V966M413.93 963V966M414.83 963V966M415.64 963V966.8M420.94 963V966M424.04 963V966M426.24 963V966M427.95 963V966M429.34 963V966M430.52 963V966M431.54 963V966M432.44 963V966M433.25 963V966.8" stroke="#000" stroke-width="1.2" fill="none"/>
<rect x="362.05" y="960.1" width="71.95" height="3.2" fill="#000"/>
<text class="yl" transform="translate(354.3,915.4) rotate(-90) scale(0.88,1)" text-anchor="middle">80</text>
<text class="yl" transform="translate(354.3,961) rotate(-90) scale(0.88,1)" text-anchor="middle">0</text>
<text class="yl" transform="translate(342.9,940.8) rotate(-90) scale(0.85,1)" text-anchor="middle" style="font-size:11px">Counts</text>
<text class="ax" x="356.1" y="977.2">10<tspan class="sup" dx="-0.5" dy="-5.2">0</tspan></text>
<text class="ax" x="423.25" y="977.2">10<tspan class="sup" dx="0.3" dy="-5.2">4</tspan></text>
<text class="fl" x="396.33" y="987" text-anchor="middle">FL3-H</text>
</svg>
</body></html>
